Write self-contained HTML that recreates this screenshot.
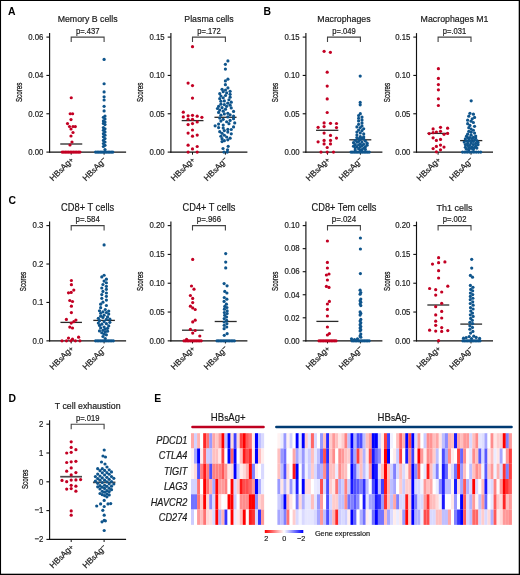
<!DOCTYPE html>
<html><head><meta charset="utf-8"><style>
html,body{margin:0;padding:0;background:#fff;}
body{width:520px;height:575px;overflow:hidden;}
svg{display:block;font-family:"Liberation Sans",sans-serif;will-change:transform;}
</style></head><body>
<svg width="520" height="575" viewBox="0 0 520 575">
<rect x="0" y="0" width="520" height="575" fill="#fff"/>
<line x1="49.6" y1="33.1" x2="49.6" y2="152.65" stroke="#111" stroke-width="1.15"/>
<line x1="46.4" y1="152.1" x2="49.6" y2="152.1" stroke="#111" stroke-width="1.1"/>
<text transform="translate(43.4,154.85) scale(1.0,1.16)" font-size="7.8" text-anchor="end" font-weight="normal" font-style="normal" fill="#222" stroke="#222" stroke-width="0.18" >0.00</text>
<line x1="46.4" y1="113.77" x2="49.6" y2="113.77" stroke="#111" stroke-width="1.1"/>
<text transform="translate(43.4,116.52) scale(1.0,1.16)" font-size="7.8" text-anchor="end" font-weight="normal" font-style="normal" fill="#222" stroke="#222" stroke-width="0.18" >0.02</text>
<line x1="46.4" y1="75.43" x2="49.6" y2="75.43" stroke="#111" stroke-width="1.1"/>
<text transform="translate(43.4,78.18) scale(1.0,1.16)" font-size="7.8" text-anchor="end" font-weight="normal" font-style="normal" fill="#222" stroke="#222" stroke-width="0.18" >0.04</text>
<line x1="46.4" y1="37.1" x2="49.6" y2="37.1" stroke="#111" stroke-width="1.1"/>
<text transform="translate(43.4,39.85) scale(1.0,1.16)" font-size="7.8" text-anchor="end" font-weight="normal" font-style="normal" fill="#222" stroke="#222" stroke-width="0.18" >0.06</text>
<line x1="49.1" y1="152.1" x2="126.1" y2="152.1" stroke="#111" stroke-width="1.15"/>
<line x1="71.2" y1="152.1" x2="71.2" y2="154.7" stroke="#111" stroke-width="1.0"/>
<line x1="104.1" y1="152.1" x2="104.1" y2="154.7" stroke="#111" stroke-width="1.0"/>
<text transform="translate(87.65,21.9) scale(1.0,1.11)" font-size="8.8" text-anchor="middle" font-weight="normal" font-style="normal" fill="#1a1a1a" stroke="#1a1a1a" stroke-width="0.18" >Memory B cells</text>
<text transform="translate(87.65,33.75) scale(1.0,1.09)" font-size="7.6" text-anchor="middle" font-weight="normal" font-style="normal" fill="#222" stroke="#222" stroke-width="0.18" >p=.437</text>
<path d="M71.2 42.1 V37.1 H104.1 V42.1" fill="none" stroke="#444" stroke-width="1.1"/>
<text transform="translate(22.2,92.4) rotate(-90) scale(0.67,1)" font-size="9.3" text-anchor="middle" fill="#222" stroke="#222" stroke-width="0.3">Scores</text>
<text transform="translate(74.1,160.4) rotate(-45)" font-size="8.4" text-anchor="end" fill="#222" stroke="#222" stroke-width="0.2">HB<tspan font-size="7.3">s</tspan>Ag<tspan font-size="7.4" dy="0.0">+</tspan></text>
<text transform="translate(107,160.4) rotate(-45)" font-size="8.4" text-anchor="end" fill="#222" stroke="#222" stroke-width="0.2">HB<tspan font-size="7.3">s</tspan>Ag<tspan font-size="7.4" dy="-1.6">&#8722;</tspan></text>
<line x1="170.9" y1="33.1" x2="170.9" y2="152.65" stroke="#111" stroke-width="1.15"/>
<line x1="167.7" y1="152.1" x2="170.9" y2="152.1" stroke="#111" stroke-width="1.1"/>
<text transform="translate(164.7,154.85) scale(1.0,1.16)" font-size="7.8" text-anchor="end" font-weight="normal" font-style="normal" fill="#222" stroke="#222" stroke-width="0.18" >0.00</text>
<line x1="167.7" y1="113.77" x2="170.9" y2="113.77" stroke="#111" stroke-width="1.1"/>
<text transform="translate(164.7,116.52) scale(1.0,1.16)" font-size="7.8" text-anchor="end" font-weight="normal" font-style="normal" fill="#222" stroke="#222" stroke-width="0.18" >0.05</text>
<line x1="167.7" y1="75.43" x2="170.9" y2="75.43" stroke="#111" stroke-width="1.1"/>
<text transform="translate(164.7,78.18) scale(1.0,1.16)" font-size="7.8" text-anchor="end" font-weight="normal" font-style="normal" fill="#222" stroke="#222" stroke-width="0.18" >0.10</text>
<line x1="167.7" y1="37.1" x2="170.9" y2="37.1" stroke="#111" stroke-width="1.1"/>
<text transform="translate(164.7,39.85) scale(1.0,1.16)" font-size="7.8" text-anchor="end" font-weight="normal" font-style="normal" fill="#222" stroke="#222" stroke-width="0.18" >0.15</text>
<line x1="170.4" y1="152.1" x2="247.4" y2="152.1" stroke="#111" stroke-width="1.15"/>
<line x1="192.5" y1="152.1" x2="192.5" y2="154.7" stroke="#111" stroke-width="1.0"/>
<line x1="225.4" y1="152.1" x2="225.4" y2="154.7" stroke="#111" stroke-width="1.0"/>
<text transform="translate(208.95,21.9) scale(1.0,1.11)" font-size="8.8" text-anchor="middle" font-weight="normal" font-style="normal" fill="#1a1a1a" stroke="#1a1a1a" stroke-width="0.18" >Plasma cells</text>
<text transform="translate(208.95,33.75) scale(1.0,1.09)" font-size="7.6" text-anchor="middle" font-weight="normal" font-style="normal" fill="#222" stroke="#222" stroke-width="0.18" >p=.172</text>
<path d="M192.5 42.1 V37.1 H225.4 V42.1" fill="none" stroke="#444" stroke-width="1.1"/>
<text transform="translate(143.4,92.4) rotate(-90) scale(0.67,1)" font-size="9.3" text-anchor="middle" fill="#222" stroke="#222" stroke-width="0.3">Scores</text>
<text transform="translate(195.4,160.4) rotate(-45)" font-size="8.4" text-anchor="end" fill="#222" stroke="#222" stroke-width="0.2">HB<tspan font-size="7.3">s</tspan>Ag<tspan font-size="7.4" dy="0.0">+</tspan></text>
<text transform="translate(228.3,160.4) rotate(-45)" font-size="8.4" text-anchor="end" fill="#222" stroke="#222" stroke-width="0.2">HB<tspan font-size="7.3">s</tspan>Ag<tspan font-size="7.4" dy="-1.6">&#8722;</tspan></text>
<line x1="305.9" y1="33.1" x2="305.9" y2="152.65" stroke="#111" stroke-width="1.15"/>
<line x1="302.7" y1="152.1" x2="305.9" y2="152.1" stroke="#111" stroke-width="1.1"/>
<text transform="translate(299.7,154.85) scale(1.0,1.16)" font-size="7.8" text-anchor="end" font-weight="normal" font-style="normal" fill="#222" stroke="#222" stroke-width="0.18" >0.00</text>
<line x1="302.7" y1="113.77" x2="305.9" y2="113.77" stroke="#111" stroke-width="1.1"/>
<text transform="translate(299.7,116.52) scale(1.0,1.16)" font-size="7.8" text-anchor="end" font-weight="normal" font-style="normal" fill="#222" stroke="#222" stroke-width="0.18" >0.05</text>
<line x1="302.7" y1="75.43" x2="305.9" y2="75.43" stroke="#111" stroke-width="1.1"/>
<text transform="translate(299.7,78.18) scale(1.0,1.16)" font-size="7.8" text-anchor="end" font-weight="normal" font-style="normal" fill="#222" stroke="#222" stroke-width="0.18" >0.10</text>
<line x1="302.7" y1="37.1" x2="305.9" y2="37.1" stroke="#111" stroke-width="1.1"/>
<text transform="translate(299.7,39.85) scale(1.0,1.16)" font-size="7.8" text-anchor="end" font-weight="normal" font-style="normal" fill="#222" stroke="#222" stroke-width="0.18" >0.15</text>
<line x1="305.4" y1="152.1" x2="382.4" y2="152.1" stroke="#111" stroke-width="1.15"/>
<line x1="327.5" y1="152.1" x2="327.5" y2="154.7" stroke="#111" stroke-width="1.0"/>
<line x1="360.4" y1="152.1" x2="360.4" y2="154.7" stroke="#111" stroke-width="1.0"/>
<text transform="translate(343.95,21.9) scale(1.0,1.11)" font-size="8.8" text-anchor="middle" font-weight="normal" font-style="normal" fill="#1a1a1a" stroke="#1a1a1a" stroke-width="0.18" >Macrophages</text>
<text transform="translate(343.95,33.75) scale(1.0,1.09)" font-size="7.6" text-anchor="middle" font-weight="normal" font-style="normal" fill="#222" stroke="#222" stroke-width="0.18" >p=.049</text>
<path d="M327.5 42.1 V37.1 H360.4 V42.1" fill="none" stroke="#444" stroke-width="1.1"/>
<text transform="translate(278.2,92.5) rotate(-90) scale(0.67,1)" font-size="9.3" text-anchor="middle" fill="#222" stroke="#222" stroke-width="0.3">Scores</text>
<text transform="translate(330.4,160.4) rotate(-45)" font-size="8.4" text-anchor="end" fill="#222" stroke="#222" stroke-width="0.2">HB<tspan font-size="7.3">s</tspan>Ag<tspan font-size="7.4" dy="0.0">+</tspan></text>
<text transform="translate(363.3,160.4) rotate(-45)" font-size="8.4" text-anchor="end" fill="#222" stroke="#222" stroke-width="0.2">HB<tspan font-size="7.3">s</tspan>Ag<tspan font-size="7.4" dy="-1.6">&#8722;</tspan></text>
<line x1="416.5" y1="33.1" x2="416.5" y2="152.65" stroke="#111" stroke-width="1.15"/>
<line x1="413.3" y1="152.1" x2="416.5" y2="152.1" stroke="#111" stroke-width="1.1"/>
<text transform="translate(410.3,154.85) scale(1.0,1.16)" font-size="7.8" text-anchor="end" font-weight="normal" font-style="normal" fill="#222" stroke="#222" stroke-width="0.18" >0.00</text>
<line x1="413.3" y1="113.77" x2="416.5" y2="113.77" stroke="#111" stroke-width="1.1"/>
<text transform="translate(410.3,116.52) scale(1.0,1.16)" font-size="7.8" text-anchor="end" font-weight="normal" font-style="normal" fill="#222" stroke="#222" stroke-width="0.18" >0.05</text>
<line x1="413.3" y1="75.43" x2="416.5" y2="75.43" stroke="#111" stroke-width="1.1"/>
<text transform="translate(410.3,78.18) scale(1.0,1.16)" font-size="7.8" text-anchor="end" font-weight="normal" font-style="normal" fill="#222" stroke="#222" stroke-width="0.18" >0.10</text>
<line x1="413.3" y1="37.1" x2="416.5" y2="37.1" stroke="#111" stroke-width="1.1"/>
<text transform="translate(410.3,39.85) scale(1.0,1.16)" font-size="7.8" text-anchor="end" font-weight="normal" font-style="normal" fill="#222" stroke="#222" stroke-width="0.18" >0.15</text>
<line x1="416" y1="152.1" x2="493" y2="152.1" stroke="#111" stroke-width="1.15"/>
<line x1="438.1" y1="152.1" x2="438.1" y2="154.7" stroke="#111" stroke-width="1.0"/>
<line x1="471" y1="152.1" x2="471" y2="154.7" stroke="#111" stroke-width="1.0"/>
<text transform="translate(454.55,21.9) scale(1.0,1.11)" font-size="8.8" text-anchor="middle" font-weight="normal" font-style="normal" fill="#1a1a1a" stroke="#1a1a1a" stroke-width="0.18" >Macrophages M1</text>
<text transform="translate(454.55,33.75) scale(1.0,1.09)" font-size="7.6" text-anchor="middle" font-weight="normal" font-style="normal" fill="#222" stroke="#222" stroke-width="0.18" >p=.031</text>
<path d="M438.1 42.1 V37.1 H471 V42.1" fill="none" stroke="#444" stroke-width="1.1"/>
<text transform="translate(390.1,92.5) rotate(-90) scale(0.67,1)" font-size="9.3" text-anchor="middle" fill="#222" stroke="#222" stroke-width="0.3">Scores</text>
<text transform="translate(441,160.4) rotate(-45)" font-size="8.4" text-anchor="end" fill="#222" stroke="#222" stroke-width="0.2">HB<tspan font-size="7.3">s</tspan>Ag<tspan font-size="7.4" dy="0.0">+</tspan></text>
<text transform="translate(473.9,160.4) rotate(-45)" font-size="8.4" text-anchor="end" fill="#222" stroke="#222" stroke-width="0.2">HB<tspan font-size="7.3">s</tspan>Ag<tspan font-size="7.4" dy="-1.6">&#8722;</tspan></text>
<line x1="49.6" y1="221.6" x2="49.6" y2="341.4" stroke="#111" stroke-width="1.15"/>
<line x1="46.4" y1="340.85" x2="49.6" y2="340.85" stroke="#111" stroke-width="1.1"/>
<text transform="translate(43.4,343.6) scale(1.0,1.16)" font-size="7.8" text-anchor="end" font-weight="normal" font-style="normal" fill="#222" stroke="#222" stroke-width="0.18" >0.0</text>
<line x1="46.4" y1="302.43" x2="49.6" y2="302.43" stroke="#111" stroke-width="1.1"/>
<text transform="translate(43.4,305.18) scale(1.0,1.16)" font-size="7.8" text-anchor="end" font-weight="normal" font-style="normal" fill="#222" stroke="#222" stroke-width="0.18" >0.1</text>
<line x1="46.4" y1="264.02" x2="49.6" y2="264.02" stroke="#111" stroke-width="1.1"/>
<text transform="translate(43.4,266.77) scale(1.0,1.16)" font-size="7.8" text-anchor="end" font-weight="normal" font-style="normal" fill="#222" stroke="#222" stroke-width="0.18" >0.2</text>
<line x1="46.4" y1="225.6" x2="49.6" y2="225.6" stroke="#111" stroke-width="1.1"/>
<text transform="translate(43.4,228.35) scale(1.0,1.16)" font-size="7.8" text-anchor="end" font-weight="normal" font-style="normal" fill="#222" stroke="#222" stroke-width="0.18" >0.3</text>
<line x1="49.1" y1="340.85" x2="126.1" y2="340.85" stroke="#111" stroke-width="1.15"/>
<line x1="71.2" y1="340.85" x2="71.2" y2="343.45" stroke="#111" stroke-width="1.0"/>
<line x1="104.1" y1="340.85" x2="104.1" y2="343.45" stroke="#111" stroke-width="1.0"/>
<text transform="translate(87.65,210.9) scale(1.0,1.11)" font-size="9.3" text-anchor="middle" font-weight="normal" font-style="normal" fill="#1a1a1a" stroke="#1a1a1a" stroke-width="0.18" >CD8+ T cells</text>
<text transform="translate(87.65,222.25) scale(1.0,1.09)" font-size="7.85" text-anchor="middle" font-weight="normal" font-style="normal" fill="#222" stroke="#222" stroke-width="0.18" >p=.584</text>
<path d="M71.2 230.6 V225.6 H104.1 V230.6" fill="none" stroke="#444" stroke-width="1.1"/>
<text transform="translate(25.55,281.5) rotate(-90) scale(0.67,1)" font-size="9.3" text-anchor="middle" fill="#222" stroke="#222" stroke-width="0.3">Scores</text>
<text transform="translate(74.1,349.15) rotate(-45)" font-size="8.4" text-anchor="end" fill="#222" stroke="#222" stroke-width="0.2">HB<tspan font-size="7.3">s</tspan>Ag<tspan font-size="7.4" dy="0.0">+</tspan></text>
<text transform="translate(107,349.15) rotate(-45)" font-size="8.4" text-anchor="end" fill="#222" stroke="#222" stroke-width="0.2">HB<tspan font-size="7.3">s</tspan>Ag<tspan font-size="7.4" dy="-1.6">&#8722;</tspan></text>
<line x1="170.9" y1="221.6" x2="170.9" y2="341.4" stroke="#111" stroke-width="1.15"/>
<line x1="167.7" y1="340.85" x2="170.9" y2="340.85" stroke="#111" stroke-width="1.1"/>
<text transform="translate(164.7,343.6) scale(1.0,1.16)" font-size="7.8" text-anchor="end" font-weight="normal" font-style="normal" fill="#222" stroke="#222" stroke-width="0.18" >0.00</text>
<line x1="167.7" y1="312.04" x2="170.9" y2="312.04" stroke="#111" stroke-width="1.1"/>
<text transform="translate(164.7,314.79) scale(1.0,1.16)" font-size="7.8" text-anchor="end" font-weight="normal" font-style="normal" fill="#222" stroke="#222" stroke-width="0.18" >0.05</text>
<line x1="167.7" y1="283.23" x2="170.9" y2="283.23" stroke="#111" stroke-width="1.1"/>
<text transform="translate(164.7,285.98) scale(1.0,1.16)" font-size="7.8" text-anchor="end" font-weight="normal" font-style="normal" fill="#222" stroke="#222" stroke-width="0.18" >0.10</text>
<line x1="167.7" y1="254.41" x2="170.9" y2="254.41" stroke="#111" stroke-width="1.1"/>
<text transform="translate(164.7,257.16) scale(1.0,1.16)" font-size="7.8" text-anchor="end" font-weight="normal" font-style="normal" fill="#222" stroke="#222" stroke-width="0.18" >0.15</text>
<line x1="167.7" y1="225.6" x2="170.9" y2="225.6" stroke="#111" stroke-width="1.1"/>
<text transform="translate(164.7,228.35) scale(1.0,1.16)" font-size="7.8" text-anchor="end" font-weight="normal" font-style="normal" fill="#222" stroke="#222" stroke-width="0.18" >0.20</text>
<line x1="170.4" y1="340.85" x2="247.4" y2="340.85" stroke="#111" stroke-width="1.15"/>
<line x1="192.5" y1="340.85" x2="192.5" y2="343.45" stroke="#111" stroke-width="1.0"/>
<line x1="225.4" y1="340.85" x2="225.4" y2="343.45" stroke="#111" stroke-width="1.0"/>
<text transform="translate(208.95,210.9) scale(1.0,1.11)" font-size="9.25" text-anchor="middle" font-weight="normal" font-style="normal" fill="#1a1a1a" stroke="#1a1a1a" stroke-width="0.18" >CD4+ T cells</text>
<text transform="translate(208.95,222.25) scale(1.0,1.09)" font-size="7.85" text-anchor="middle" font-weight="normal" font-style="normal" fill="#222" stroke="#222" stroke-width="0.18" >p=.966</text>
<path d="M192.5 230.6 V225.6 H225.4 V230.6" fill="none" stroke="#444" stroke-width="1.1"/>
<text transform="translate(143.45,281.3) rotate(-90) scale(0.67,1)" font-size="9.3" text-anchor="middle" fill="#222" stroke="#222" stroke-width="0.3">Scores</text>
<text transform="translate(195.4,349.15) rotate(-45)" font-size="8.4" text-anchor="end" fill="#222" stroke="#222" stroke-width="0.2">HB<tspan font-size="7.3">s</tspan>Ag<tspan font-size="7.4" dy="0.0">+</tspan></text>
<text transform="translate(228.3,349.15) rotate(-45)" font-size="8.4" text-anchor="end" fill="#222" stroke="#222" stroke-width="0.2">HB<tspan font-size="7.3">s</tspan>Ag<tspan font-size="7.4" dy="-1.6">&#8722;</tspan></text>
<line x1="305.9" y1="221.6" x2="305.9" y2="341.4" stroke="#111" stroke-width="1.15"/>
<line x1="302.7" y1="340.85" x2="305.9" y2="340.85" stroke="#111" stroke-width="1.1"/>
<text transform="translate(299.7,343.6) scale(1.0,1.16)" font-size="7.8" text-anchor="end" font-weight="normal" font-style="normal" fill="#222" stroke="#222" stroke-width="0.18" >0.00</text>
<line x1="302.7" y1="317.8" x2="305.9" y2="317.8" stroke="#111" stroke-width="1.1"/>
<text transform="translate(299.7,320.55) scale(1.0,1.16)" font-size="7.8" text-anchor="end" font-weight="normal" font-style="normal" fill="#222" stroke="#222" stroke-width="0.18" >0.02</text>
<line x1="302.7" y1="294.75" x2="305.9" y2="294.75" stroke="#111" stroke-width="1.1"/>
<text transform="translate(299.7,297.5) scale(1.0,1.16)" font-size="7.8" text-anchor="end" font-weight="normal" font-style="normal" fill="#222" stroke="#222" stroke-width="0.18" >0.04</text>
<line x1="302.7" y1="271.7" x2="305.9" y2="271.7" stroke="#111" stroke-width="1.1"/>
<text transform="translate(299.7,274.45) scale(1.0,1.16)" font-size="7.8" text-anchor="end" font-weight="normal" font-style="normal" fill="#222" stroke="#222" stroke-width="0.18" >0.06</text>
<line x1="302.7" y1="248.65" x2="305.9" y2="248.65" stroke="#111" stroke-width="1.1"/>
<text transform="translate(299.7,251.4) scale(1.0,1.16)" font-size="7.8" text-anchor="end" font-weight="normal" font-style="normal" fill="#222" stroke="#222" stroke-width="0.18" >0.08</text>
<line x1="302.7" y1="225.6" x2="305.9" y2="225.6" stroke="#111" stroke-width="1.1"/>
<text transform="translate(299.7,228.35) scale(1.0,1.16)" font-size="7.8" text-anchor="end" font-weight="normal" font-style="normal" fill="#222" stroke="#222" stroke-width="0.18" >0.10</text>
<line x1="305.4" y1="340.85" x2="382.4" y2="340.85" stroke="#111" stroke-width="1.15"/>
<line x1="327.5" y1="340.85" x2="327.5" y2="343.45" stroke="#111" stroke-width="1.0"/>
<line x1="360.4" y1="340.85" x2="360.4" y2="343.45" stroke="#111" stroke-width="1.0"/>
<text transform="translate(343.95,210.9) scale(1.0,1.11)" font-size="9.25" text-anchor="middle" font-weight="normal" font-style="normal" fill="#1a1a1a" stroke="#1a1a1a" stroke-width="0.18" >CD8+ Tem cells</text>
<text transform="translate(343.95,222.25) scale(1.0,1.09)" font-size="7.95" text-anchor="middle" font-weight="normal" font-style="normal" fill="#222" stroke="#222" stroke-width="0.18" >p=.024</text>
<path d="M327.5 230.6 V225.6 H360.4 V230.6" fill="none" stroke="#444" stroke-width="1.1"/>
<text transform="translate(277.7,281.3) rotate(-90) scale(0.67,1)" font-size="9.3" text-anchor="middle" fill="#222" stroke="#222" stroke-width="0.3">Scores</text>
<text transform="translate(330.4,349.15) rotate(-45)" font-size="8.4" text-anchor="end" fill="#222" stroke="#222" stroke-width="0.2">HB<tspan font-size="7.3">s</tspan>Ag<tspan font-size="7.4" dy="0.0">+</tspan></text>
<text transform="translate(363.3,349.15) rotate(-45)" font-size="8.4" text-anchor="end" fill="#222" stroke="#222" stroke-width="0.2">HB<tspan font-size="7.3">s</tspan>Ag<tspan font-size="7.4" dy="-1.6">&#8722;</tspan></text>
<line x1="416.5" y1="221.6" x2="416.5" y2="341.4" stroke="#111" stroke-width="1.15"/>
<line x1="413.3" y1="340.85" x2="416.5" y2="340.85" stroke="#111" stroke-width="1.1"/>
<text transform="translate(410.3,343.6) scale(1.0,1.16)" font-size="7.8" text-anchor="end" font-weight="normal" font-style="normal" fill="#222" stroke="#222" stroke-width="0.18" >0.00</text>
<line x1="413.3" y1="312.04" x2="416.5" y2="312.04" stroke="#111" stroke-width="1.1"/>
<text transform="translate(410.3,314.79) scale(1.0,1.16)" font-size="7.8" text-anchor="end" font-weight="normal" font-style="normal" fill="#222" stroke="#222" stroke-width="0.18" >0.05</text>
<line x1="413.3" y1="283.23" x2="416.5" y2="283.23" stroke="#111" stroke-width="1.1"/>
<text transform="translate(410.3,285.98) scale(1.0,1.16)" font-size="7.8" text-anchor="end" font-weight="normal" font-style="normal" fill="#222" stroke="#222" stroke-width="0.18" >0.10</text>
<line x1="413.3" y1="254.41" x2="416.5" y2="254.41" stroke="#111" stroke-width="1.1"/>
<text transform="translate(410.3,257.16) scale(1.0,1.16)" font-size="7.8" text-anchor="end" font-weight="normal" font-style="normal" fill="#222" stroke="#222" stroke-width="0.18" >0.15</text>
<line x1="413.3" y1="225.6" x2="416.5" y2="225.6" stroke="#111" stroke-width="1.1"/>
<text transform="translate(410.3,228.35) scale(1.0,1.16)" font-size="7.8" text-anchor="end" font-weight="normal" font-style="normal" fill="#222" stroke="#222" stroke-width="0.18" >0.20</text>
<line x1="416" y1="340.85" x2="493" y2="340.85" stroke="#111" stroke-width="1.15"/>
<line x1="438.1" y1="340.85" x2="438.1" y2="343.45" stroke="#111" stroke-width="1.0"/>
<line x1="471" y1="340.85" x2="471" y2="343.45" stroke="#111" stroke-width="1.0"/>
<text transform="translate(454.55,210.9) scale(1.0,1.11)" font-size="9.0" text-anchor="middle" font-weight="normal" font-style="normal" fill="#1a1a1a" stroke="#1a1a1a" stroke-width="0.18" >Th1 cells</text>
<text transform="translate(454.55,222.25) scale(1.0,1.09)" font-size="7.7" text-anchor="middle" font-weight="normal" font-style="normal" fill="#222" stroke="#222" stroke-width="0.18" >p=.002</text>
<path d="M438.1 230.6 V225.6 H471 V230.6" fill="none" stroke="#444" stroke-width="1.1"/>
<text transform="translate(389.8,281.3) rotate(-90) scale(0.67,1)" font-size="9.3" text-anchor="middle" fill="#222" stroke="#222" stroke-width="0.3">Scores</text>
<text transform="translate(441,349.15) rotate(-45)" font-size="8.4" text-anchor="end" fill="#222" stroke="#222" stroke-width="0.2">HB<tspan font-size="7.3">s</tspan>Ag<tspan font-size="7.4" dy="0.0">+</tspan></text>
<text transform="translate(473.9,349.15) rotate(-45)" font-size="8.4" text-anchor="end" fill="#222" stroke="#222" stroke-width="0.2">HB<tspan font-size="7.3">s</tspan>Ag<tspan font-size="7.4" dy="-1.6">&#8722;</tspan></text>
<line x1="49.6" y1="420.2" x2="49.6" y2="539.95" stroke="#111" stroke-width="1.15"/>
<line x1="46.4" y1="539.4" x2="49.6" y2="539.4" stroke="#111" stroke-width="1.1"/>
<text transform="translate(43.4,542.15) scale(1.0,1.16)" font-size="7.8" text-anchor="end" font-weight="normal" font-style="normal" fill="#222" stroke="#222" stroke-width="0.18" >&#8722;2</text>
<line x1="46.4" y1="510.6" x2="49.6" y2="510.6" stroke="#111" stroke-width="1.1"/>
<text transform="translate(43.4,513.35) scale(1.0,1.16)" font-size="7.8" text-anchor="end" font-weight="normal" font-style="normal" fill="#222" stroke="#222" stroke-width="0.18" >&#8722;1</text>
<line x1="46.4" y1="481.8" x2="49.6" y2="481.8" stroke="#111" stroke-width="1.1"/>
<text transform="translate(43.4,484.55) scale(1.0,1.16)" font-size="7.8" text-anchor="end" font-weight="normal" font-style="normal" fill="#222" stroke="#222" stroke-width="0.18" >0</text>
<line x1="46.4" y1="453" x2="49.6" y2="453" stroke="#111" stroke-width="1.1"/>
<text transform="translate(43.4,455.75) scale(1.0,1.16)" font-size="7.8" text-anchor="end" font-weight="normal" font-style="normal" fill="#222" stroke="#222" stroke-width="0.18" >1</text>
<line x1="46.4" y1="424.2" x2="49.6" y2="424.2" stroke="#111" stroke-width="1.1"/>
<text transform="translate(43.4,426.95) scale(1.0,1.16)" font-size="7.8" text-anchor="end" font-weight="normal" font-style="normal" fill="#222" stroke="#222" stroke-width="0.18" >2</text>
<line x1="49.1" y1="539.4" x2="126.1" y2="539.4" stroke="#111" stroke-width="1.15"/>
<line x1="71.2" y1="539.4" x2="71.2" y2="542" stroke="#111" stroke-width="1.0"/>
<line x1="104.1" y1="539.4" x2="104.1" y2="542" stroke="#111" stroke-width="1.0"/>
<text transform="translate(87.65,409) scale(1.0,1.11)" font-size="8.8" text-anchor="middle" font-weight="normal" font-style="normal" fill="#1a1a1a" stroke="#1a1a1a" stroke-width="0.18" >T cell exhaustion</text>
<text transform="translate(87.65,420.85) scale(1.0,1.09)" font-size="7.6" text-anchor="middle" font-weight="normal" font-style="normal" fill="#222" stroke="#222" stroke-width="0.18" >p=.019</text>
<path d="M71.2 429.2 V424.2 H104.1 V429.2" fill="none" stroke="#444" stroke-width="1.1"/>
<text transform="translate(28.2,479.4) rotate(-90) scale(0.67,1)" font-size="9.3" text-anchor="middle" fill="#222" stroke="#222" stroke-width="0.3">Scores</text>
<text transform="translate(74.1,547.7) rotate(-45)" font-size="8.4" text-anchor="end" fill="#222" stroke="#222" stroke-width="0.2">HB<tspan font-size="7.3">s</tspan>Ag<tspan font-size="7.4" dy="0.0">+</tspan></text>
<text transform="translate(107,547.7) rotate(-45)" font-size="8.4" text-anchor="end" fill="#222" stroke="#222" stroke-width="0.2">HB<tspan font-size="7.3">s</tspan>Ag<tspan font-size="7.4" dy="-1.6">&#8722;</tspan></text>
<line x1="60.25" y1="144" x2="82.25" y2="144" stroke="#2a2a2a" stroke-width="1.3"/>
<circle cx="71.25" cy="97.75" r="1.6" fill="#c30023"/>
<circle cx="70.2" cy="113.75" r="1.6" fill="#c30023"/>
<circle cx="72.6" cy="113.75" r="1.6" fill="#c30023"/>
<circle cx="71" cy="119.6" r="1.6" fill="#c30023"/>
<circle cx="67.5" cy="123.6" r="1.6" fill="#c30023"/>
<circle cx="69.5" cy="126.5" r="1.6" fill="#c30023"/>
<circle cx="73" cy="126.5" r="1.6" fill="#c30023"/>
<circle cx="75.3" cy="126.6" r="1.6" fill="#c30023"/>
<circle cx="71" cy="129" r="1.6" fill="#c30023"/>
<circle cx="73" cy="132.5" r="1.6" fill="#c30023"/>
<circle cx="71" cy="136" r="1.6" fill="#c30023"/>
<circle cx="72" cy="142" r="1.6" fill="#c30023"/>
<circle cx="70" cy="145" r="1.6" fill="#c30023"/>
<circle cx="62.2" cy="152.1" r="1.6" fill="#c30023"/>
<circle cx="63.81" cy="152.1" r="1.6" fill="#c30023"/>
<circle cx="65.42" cy="152.1" r="1.6" fill="#c30023"/>
<circle cx="67.03" cy="152.1" r="1.6" fill="#c30023"/>
<circle cx="68.64" cy="152.1" r="1.6" fill="#c30023"/>
<circle cx="70.25" cy="152.1" r="1.6" fill="#c30023"/>
<circle cx="71.85" cy="152.1" r="1.6" fill="#c30023"/>
<circle cx="73.46" cy="152.1" r="1.6" fill="#c30023"/>
<circle cx="75.07" cy="152.1" r="1.6" fill="#c30023"/>
<circle cx="76.68" cy="152.1" r="1.6" fill="#c30023"/>
<circle cx="78.29" cy="152.1" r="1.6" fill="#c30023"/>
<circle cx="79.9" cy="152.1" r="1.6" fill="#c30023"/>
<circle cx="104.1" cy="59.4" r="1.6" fill="#0f558c"/>
<circle cx="104.1" cy="83.75" r="1.6" fill="#0f558c"/>
<circle cx="104.1" cy="91.9" r="1.6" fill="#0f558c"/>
<circle cx="104.1" cy="96.8" r="1.6" fill="#0f558c"/>
<circle cx="104.1" cy="100" r="1.6" fill="#0f558c"/>
<circle cx="104.1" cy="106.3" r="1.6" fill="#0f558c"/>
<circle cx="104.1" cy="110.9" r="1.6" fill="#0f558c"/>
<circle cx="105" cy="116" r="1.6" fill="#0f558c"/>
<circle cx="103.4" cy="117.3" r="1.6" fill="#0f558c"/>
<circle cx="105" cy="118.9" r="1.6" fill="#0f558c"/>
<circle cx="103.4" cy="120.9" r="1.6" fill="#0f558c"/>
<circle cx="105" cy="122.1" r="1.6" fill="#0f558c"/>
<circle cx="103.4" cy="123.4" r="1.6" fill="#0f558c"/>
<circle cx="105" cy="124.6" r="1.6" fill="#0f558c"/>
<circle cx="103.4" cy="127.6" r="1.6" fill="#0f558c"/>
<circle cx="105" cy="128.8" r="1.6" fill="#0f558c"/>
<circle cx="103.4" cy="130.3" r="1.6" fill="#0f558c"/>
<circle cx="105" cy="131.9" r="1.6" fill="#0f558c"/>
<circle cx="103.4" cy="133.7" r="1.6" fill="#0f558c"/>
<circle cx="105" cy="135.2" r="1.6" fill="#0f558c"/>
<circle cx="103.4" cy="136.8" r="1.6" fill="#0f558c"/>
<circle cx="105" cy="138.6" r="1.6" fill="#0f558c"/>
<circle cx="103.4" cy="140.4" r="1.6" fill="#0f558c"/>
<circle cx="105" cy="142" r="1.6" fill="#0f558c"/>
<circle cx="103.4" cy="143.5" r="1.6" fill="#0f558c"/>
<circle cx="105" cy="145.3" r="1.6" fill="#0f558c"/>
<circle cx="103.4" cy="146.5" r="1.6" fill="#0f558c"/>
<circle cx="105" cy="149.6" r="1.6" fill="#0f558c"/>
<circle cx="95.6" cy="152.1" r="1.6" fill="#0f558c"/>
<circle cx="97.16" cy="152.1" r="1.6" fill="#0f558c"/>
<circle cx="98.73" cy="152.1" r="1.6" fill="#0f558c"/>
<circle cx="100.29" cy="152.1" r="1.6" fill="#0f558c"/>
<circle cx="101.85" cy="152.1" r="1.6" fill="#0f558c"/>
<circle cx="103.42" cy="152.1" r="1.6" fill="#0f558c"/>
<circle cx="104.98" cy="152.1" r="1.6" fill="#0f558c"/>
<circle cx="106.55" cy="152.1" r="1.6" fill="#0f558c"/>
<circle cx="108.11" cy="152.1" r="1.6" fill="#0f558c"/>
<circle cx="109.67" cy="152.1" r="1.6" fill="#0f558c"/>
<circle cx="111.24" cy="152.1" r="1.6" fill="#0f558c"/>
<circle cx="112.8" cy="152.1" r="1.6" fill="#0f558c"/>
<line x1="181.7" y1="120.6" x2="203.5" y2="120.6" stroke="#2a2a2a" stroke-width="1.3"/>
<circle cx="192.5" cy="46.7" r="1.6" fill="#c30023"/>
<circle cx="188.1" cy="83.1" r="1.6" fill="#c30023"/>
<circle cx="192.5" cy="85.6" r="1.6" fill="#c30023"/>
<circle cx="192.5" cy="98.1" r="1.6" fill="#c30023"/>
<circle cx="183.3" cy="112.2" r="1.6" fill="#c30023"/>
<circle cx="183.3" cy="116.9" r="1.6" fill="#c30023"/>
<circle cx="188.1" cy="115.8" r="1.6" fill="#c30023"/>
<circle cx="192.5" cy="115.3" r="1.6" fill="#c30023"/>
<circle cx="197.2" cy="116.2" r="1.6" fill="#c30023"/>
<circle cx="201.9" cy="117.3" r="1.6" fill="#c30023"/>
<circle cx="188.1" cy="119.3" r="1.6" fill="#c30023"/>
<circle cx="192.5" cy="119.3" r="1.6" fill="#c30023"/>
<circle cx="197.2" cy="121.9" r="1.6" fill="#c30023"/>
<circle cx="188.1" cy="124.6" r="1.6" fill="#c30023"/>
<circle cx="192.5" cy="123.6" r="1.6" fill="#c30023"/>
<circle cx="192.5" cy="130" r="1.6" fill="#c30023"/>
<circle cx="188.1" cy="133.1" r="1.6" fill="#c30023"/>
<circle cx="192.5" cy="136.2" r="1.6" fill="#c30023"/>
<circle cx="197.2" cy="135.1" r="1.6" fill="#c30023"/>
<circle cx="188.1" cy="145.2" r="1.6" fill="#c30023"/>
<circle cx="197.2" cy="146.5" r="1.6" fill="#c30023"/>
<circle cx="192.5" cy="148.9" r="1.6" fill="#c30023"/>
<circle cx="188.1" cy="152.1" r="1.6" fill="#c30023"/>
<circle cx="197.2" cy="152.1" r="1.6" fill="#c30023"/>
<line x1="214.45" y1="117.3" x2="236.55" y2="117.3" stroke="#2a2a2a" stroke-width="1.3"/>
<circle cx="227.9" cy="60.9" r="1.6" fill="#0f558c"/>
<circle cx="225.4" cy="64.3" r="1.6" fill="#0f558c"/>
<circle cx="225.4" cy="69.1" r="1.6" fill="#0f558c"/>
<circle cx="227.9" cy="79.2" r="1.6" fill="#0f558c"/>
<circle cx="225.4" cy="80.9" r="1.6" fill="#0f558c"/>
<circle cx="225.4" cy="84.7" r="1.6" fill="#0f558c"/>
<circle cx="227.9" cy="87.9" r="1.6" fill="#0f558c"/>
<circle cx="222.05" cy="89.29" r="1.6" fill="#0f558c"/>
<circle cx="225.5" cy="90.02" r="1.6" fill="#0f558c"/>
<circle cx="230.1" cy="91.29" r="1.6" fill="#0f558c"/>
<circle cx="223.2" cy="91.69" r="1.6" fill="#0f558c"/>
<circle cx="226.65" cy="92.93" r="1.6" fill="#0f558c"/>
<circle cx="219.75" cy="93.66" r="1.6" fill="#0f558c"/>
<circle cx="230.1" cy="94.28" r="1.6" fill="#0f558c"/>
<circle cx="225.5" cy="95.51" r="1.6" fill="#0f558c"/>
<circle cx="220.9" cy="96" r="1.6" fill="#0f558c"/>
<circle cx="230.1" cy="97.18" r="1.6" fill="#0f558c"/>
<circle cx="223.2" cy="97.76" r="1.6" fill="#0f558c"/>
<circle cx="219.75" cy="98.64" r="1.6" fill="#0f558c"/>
<circle cx="228.95" cy="99.77" r="1.6" fill="#0f558c"/>
<circle cx="224.35" cy="100.96" r="1.6" fill="#0f558c"/>
<circle cx="220.9" cy="101.27" r="1.6" fill="#0f558c"/>
<circle cx="231.25" cy="102.14" r="1.6" fill="#0f558c"/>
<circle cx="227.8" cy="103.17" r="1.6" fill="#0f558c"/>
<circle cx="220.9" cy="104.14" r="1.6" fill="#0f558c"/>
<circle cx="224.35" cy="104.56" r="1.6" fill="#0f558c"/>
<circle cx="230.1" cy="105.13" r="1.6" fill="#0f558c"/>
<circle cx="218.6" cy="106.28" r="1.6" fill="#0f558c"/>
<circle cx="226.65" cy="106.31" r="1.6" fill="#0f558c"/>
<circle cx="222.05" cy="107.64" r="1.6" fill="#0f558c"/>
<circle cx="231.25" cy="107.9" r="1.6" fill="#0f558c"/>
<circle cx="217.45" cy="108.5" r="1.6" fill="#0f558c"/>
<circle cx="225.5" cy="109.19" r="1.6" fill="#0f558c"/>
<circle cx="219.75" cy="110.06" r="1.6" fill="#0f558c"/>
<circle cx="223.2" cy="111.18" r="1.6" fill="#0f558c"/>
<circle cx="233.55" cy="111.39" r="1.6" fill="#0f558c"/>
<circle cx="218.6" cy="112.46" r="1.6" fill="#0f558c"/>
<circle cx="227.8" cy="113.3" r="1.6" fill="#0f558c"/>
<circle cx="224.35" cy="113.88" r="1.6" fill="#0f558c"/>
<circle cx="230.1" cy="114.81" r="1.6" fill="#0f558c"/>
<circle cx="220.9" cy="115.21" r="1.6" fill="#0f558c"/>
<circle cx="233.55" cy="116" r="1.6" fill="#0f558c"/>
<circle cx="227.8" cy="116.91" r="1.6" fill="#0f558c"/>
<circle cx="219.75" cy="118.08" r="1.6" fill="#0f558c"/>
<circle cx="233.55" cy="118.67" r="1.6" fill="#0f558c"/>
<circle cx="223.2" cy="119.37" r="1.6" fill="#0f558c"/>
<circle cx="230.1" cy="120.38" r="1.6" fill="#0f558c"/>
<circle cx="220.9" cy="121.07" r="1.6" fill="#0f558c"/>
<circle cx="226.65" cy="121.74" r="1.6" fill="#0f558c"/>
<circle cx="234.7" cy="122.92" r="1.6" fill="#0f558c"/>
<circle cx="228.95" cy="123.64" r="1.6" fill="#0f558c"/>
<circle cx="218.6" cy="124.07" r="1.6" fill="#0f558c"/>
<circle cx="223.2" cy="125.12" r="1.6" fill="#0f558c"/>
<circle cx="215.15" cy="125.87" r="1.6" fill="#0f558c"/>
<circle cx="233.55" cy="126.95" r="1.6" fill="#0f558c"/>
<circle cx="218.6" cy="127.62" r="1.6" fill="#0f558c"/>
<circle cx="223.2" cy="128.06" r="1.6" fill="#0f558c"/>
<circle cx="227.8" cy="129.4" r="1.6" fill="#0f558c"/>
<circle cx="231.25" cy="129.51" r="1.6" fill="#0f558c"/>
<circle cx="224.35" cy="130.54" r="1.6" fill="#0f558c"/>
<circle cx="219.75" cy="131.66" r="1.6" fill="#0f558c"/>
<circle cx="227.8" cy="132.1" r="1.6" fill="#0f558c"/>
<circle cx="222.05" cy="133.28" r="1.6" fill="#0f558c"/>
<circle cx="231.25" cy="133.84" r="1.6" fill="#0f558c"/>
<circle cx="224.35" cy="135.26" r="1.6" fill="#0f558c"/>
<circle cx="220.9" cy="136.25" r="1.6" fill="#0f558c"/>
<circle cx="226.65" cy="137.02" r="1.6" fill="#0f558c"/>
<circle cx="230.1" cy="138.18" r="1.6" fill="#0f558c"/>
<circle cx="222.05" cy="138.64" r="1.6" fill="#0f558c"/>
<circle cx="227.8" cy="139.86" r="1.6" fill="#0f558c"/>
<circle cx="224.35" cy="140.7" r="1.6" fill="#0f558c"/>
<circle cx="222.05" cy="141.61" r="1.6" fill="#0f558c"/>
<circle cx="228.2" cy="146.3" r="1.6" fill="#0f558c"/>
<circle cx="223" cy="148.5" r="1.6" fill="#0f558c"/>
<circle cx="227.5" cy="149.8" r="1.6" fill="#0f558c"/>
<circle cx="224" cy="152.1" r="1.6" fill="#0f558c"/>
<circle cx="227.2" cy="152.1" r="1.6" fill="#0f558c"/>
<line x1="316.05" y1="130.3" x2="338.35" y2="130.3" stroke="#2a2a2a" stroke-width="1.3"/>
<circle cx="324.1" cy="51.3" r="1.6" fill="#c30023"/>
<circle cx="330.4" cy="52.3" r="1.6" fill="#c30023"/>
<circle cx="327.2" cy="72.2" r="1.6" fill="#c30023"/>
<circle cx="327.2" cy="86.1" r="1.6" fill="#c30023"/>
<circle cx="327.2" cy="98.9" r="1.6" fill="#c30023"/>
<circle cx="327.2" cy="112.5" r="1.6" fill="#c30023"/>
<circle cx="324.1" cy="122.9" r="1.6" fill="#c30023"/>
<circle cx="330.5" cy="123.3" r="1.6" fill="#c30023"/>
<circle cx="336.5" cy="123.5" r="1.6" fill="#c30023"/>
<circle cx="318.1" cy="127.3" r="1.6" fill="#c30023"/>
<circle cx="324.1" cy="126.6" r="1.6" fill="#c30023"/>
<circle cx="336.5" cy="127.6" r="1.6" fill="#c30023"/>
<circle cx="324.1" cy="133.1" r="1.6" fill="#c30023"/>
<circle cx="330.5" cy="135.4" r="1.6" fill="#c30023"/>
<circle cx="336.5" cy="138.1" r="1.6" fill="#c30023"/>
<circle cx="318.1" cy="141.8" r="1.6" fill="#c30023"/>
<circle cx="324.1" cy="140.4" r="1.6" fill="#c30023"/>
<circle cx="330.5" cy="140.4" r="1.6" fill="#c30023"/>
<circle cx="324.1" cy="143.9" r="1.6" fill="#c30023"/>
<circle cx="330.5" cy="143.9" r="1.6" fill="#c30023"/>
<circle cx="327.2" cy="147.5" r="1.6" fill="#c30023"/>
<circle cx="321" cy="152.1" r="1.6" fill="#c30023"/>
<circle cx="327.2" cy="152.1" r="1.6" fill="#c30023"/>
<circle cx="333.5" cy="152.1" r="1.6" fill="#c30023"/>
<line x1="349.3" y1="139.8" x2="371.3" y2="139.8" stroke="#2a2a2a" stroke-width="1.3"/>
<circle cx="360.2" cy="76.1" r="1.6" fill="#0f558c"/>
<circle cx="360.2" cy="102.4" r="1.6" fill="#0f558c"/>
<circle cx="360.2" cy="104.8" r="1.6" fill="#0f558c"/>
<circle cx="360.3" cy="113.71" r="1.6" fill="#0f558c"/>
<circle cx="358.6" cy="115.52" r="1.6" fill="#0f558c"/>
<circle cx="362" cy="117.11" r="1.6" fill="#0f558c"/>
<circle cx="358.6" cy="118.23" r="1.6" fill="#0f558c"/>
<circle cx="362" cy="119.88" r="1.6" fill="#0f558c"/>
<circle cx="358.6" cy="120.9" r="1.6" fill="#0f558c"/>
<circle cx="362" cy="122.91" r="1.6" fill="#0f558c"/>
<circle cx="358.6" cy="124.37" r="1.6" fill="#0f558c"/>
<circle cx="362" cy="125.94" r="1.6" fill="#0f558c"/>
<circle cx="356.9" cy="126.89" r="1.6" fill="#0f558c"/>
<circle cx="360.3" cy="127.55" r="1.6" fill="#0f558c"/>
<circle cx="363.7" cy="128.73" r="1.6" fill="#0f558c"/>
<circle cx="358.6" cy="130.04" r="1.6" fill="#0f558c"/>
<circle cx="362" cy="130.62" r="1.6" fill="#0f558c"/>
<circle cx="356.9" cy="132.06" r="1.6" fill="#0f558c"/>
<circle cx="360.3" cy="132.92" r="1.6" fill="#0f558c"/>
<circle cx="363.7" cy="133.97" r="1.6" fill="#0f558c"/>
<circle cx="356.9" cy="135.01" r="1.6" fill="#0f558c"/>
<circle cx="360.3" cy="136.67" r="1.6" fill="#0f558c"/>
<circle cx="363.7" cy="136.95" r="1.6" fill="#0f558c"/>
<circle cx="356.9" cy="137.55" r="1.6" fill="#0f558c"/>
<circle cx="362" cy="138.16" r="1.6" fill="#0f558c"/>
<circle cx="358.6" cy="138.91" r="1.6" fill="#0f558c"/>
<circle cx="363.7" cy="139.05" r="1.6" fill="#0f558c"/>
<circle cx="360.3" cy="139.71" r="1.6" fill="#0f558c"/>
<circle cx="355.2" cy="140.29" r="1.6" fill="#0f558c"/>
<circle cx="365.4" cy="141.06" r="1.6" fill="#0f558c"/>
<circle cx="358.6" cy="141.51" r="1.6" fill="#0f558c"/>
<circle cx="362" cy="142.04" r="1.6" fill="#0f558c"/>
<circle cx="356.9" cy="142.07" r="1.6" fill="#0f558c"/>
<circle cx="353.5" cy="142.68" r="1.6" fill="#0f558c"/>
<circle cx="367.1" cy="143.14" r="1.6" fill="#0f558c"/>
<circle cx="360.3" cy="144.06" r="1.6" fill="#0f558c"/>
<circle cx="363.7" cy="144.33" r="1.6" fill="#0f558c"/>
<circle cx="355.2" cy="144.57" r="1.6" fill="#0f558c"/>
<circle cx="358.6" cy="144.76" r="1.6" fill="#0f558c"/>
<circle cx="367.1" cy="145.21" r="1.6" fill="#0f558c"/>
<circle cx="362" cy="145.61" r="1.6" fill="#0f558c"/>
<circle cx="353.5" cy="146.22" r="1.6" fill="#0f558c"/>
<circle cx="356.9" cy="146.71" r="1.6" fill="#0f558c"/>
<circle cx="365.4" cy="146.86" r="1.6" fill="#0f558c"/>
<circle cx="360.3" cy="147.06" r="1.6" fill="#0f558c"/>
<circle cx="355.2" cy="147.79" r="1.6" fill="#0f558c"/>
<circle cx="363.7" cy="148.16" r="1.6" fill="#0f558c"/>
<circle cx="358.6" cy="148.72" r="1.6" fill="#0f558c"/>
<circle cx="365.4" cy="149.44" r="1.6" fill="#0f558c"/>
<circle cx="362" cy="149.64" r="1.6" fill="#0f558c"/>
<circle cx="355.2" cy="149.9" r="1.6" fill="#0f558c"/>
<circle cx="360.3" cy="150.39" r="1.6" fill="#0f558c"/>
<circle cx="351.1" cy="152.1" r="1.6" fill="#0f558c"/>
<circle cx="352.75" cy="152.1" r="1.6" fill="#0f558c"/>
<circle cx="354.39" cy="152.1" r="1.6" fill="#0f558c"/>
<circle cx="356.04" cy="152.1" r="1.6" fill="#0f558c"/>
<circle cx="357.68" cy="152.1" r="1.6" fill="#0f558c"/>
<circle cx="359.33" cy="152.1" r="1.6" fill="#0f558c"/>
<circle cx="360.97" cy="152.1" r="1.6" fill="#0f558c"/>
<circle cx="362.62" cy="152.1" r="1.6" fill="#0f558c"/>
<circle cx="364.26" cy="152.1" r="1.6" fill="#0f558c"/>
<circle cx="365.91" cy="152.1" r="1.6" fill="#0f558c"/>
<circle cx="367.55" cy="152.1" r="1.6" fill="#0f558c"/>
<circle cx="369.2" cy="152.1" r="1.6" fill="#0f558c"/>
<line x1="427.45" y1="133.4" x2="448.95" y2="133.4" stroke="#2a2a2a" stroke-width="1.3"/>
<circle cx="438.4" cy="68.7" r="1.6" fill="#c30023"/>
<circle cx="438.4" cy="78.4" r="1.6" fill="#c30023"/>
<circle cx="438.4" cy="84.6" r="1.6" fill="#c30023"/>
<circle cx="438.4" cy="89.8" r="1.6" fill="#c30023"/>
<circle cx="438.4" cy="98.8" r="1.6" fill="#c30023"/>
<circle cx="438.4" cy="105.5" r="1.6" fill="#c30023"/>
<circle cx="433.1" cy="128.9" r="1.6" fill="#c30023"/>
<circle cx="440.5" cy="127.3" r="1.6" fill="#c30023"/>
<circle cx="447.6" cy="128.2" r="1.6" fill="#c30023"/>
<circle cx="429.2" cy="133.6" r="1.6" fill="#c30023"/>
<circle cx="433.1" cy="132.7" r="1.6" fill="#c30023"/>
<circle cx="436.4" cy="132" r="1.6" fill="#c30023"/>
<circle cx="440.5" cy="131.3" r="1.6" fill="#c30023"/>
<circle cx="444" cy="134.3" r="1.6" fill="#c30023"/>
<circle cx="447.6" cy="133.4" r="1.6" fill="#c30023"/>
<circle cx="433.1" cy="137.8" r="1.6" fill="#c30023"/>
<circle cx="436.4" cy="140.4" r="1.6" fill="#c30023"/>
<circle cx="440.5" cy="139.4" r="1.6" fill="#c30023"/>
<circle cx="433.1" cy="148.6" r="1.6" fill="#c30023"/>
<circle cx="436.4" cy="146.4" r="1.6" fill="#c30023"/>
<circle cx="440.5" cy="145.1" r="1.6" fill="#c30023"/>
<circle cx="444" cy="147.1" r="1.6" fill="#c30023"/>
<circle cx="440.5" cy="149.8" r="1.6" fill="#c30023"/>
<circle cx="436.4" cy="151.8" r="1.6" fill="#c30023"/>
<line x1="460.1" y1="140.6" x2="482.3" y2="140.6" stroke="#2a2a2a" stroke-width="1.3"/>
<circle cx="471.2" cy="100.8" r="1.6" fill="#0f558c"/>
<circle cx="469.95" cy="113.31" r="1.6" fill="#0f558c"/>
<circle cx="473.4" cy="114.16" r="1.6" fill="#0f558c"/>
<circle cx="468.8" cy="116.19" r="1.6" fill="#0f558c"/>
<circle cx="474.55" cy="117.44" r="1.6" fill="#0f558c"/>
<circle cx="472.25" cy="118.86" r="1.6" fill="#0f558c"/>
<circle cx="467.65" cy="120.14" r="1.6" fill="#0f558c"/>
<circle cx="471.1" cy="121.16" r="1.6" fill="#0f558c"/>
<circle cx="473.4" cy="122.52" r="1.6" fill="#0f558c"/>
<circle cx="467.65" cy="123.63" r="1.6" fill="#0f558c"/>
<circle cx="469.95" cy="125.4" r="1.6" fill="#0f558c"/>
<circle cx="474.55" cy="126.28" r="1.6" fill="#0f558c"/>
<circle cx="468.8" cy="127.63" r="1.6" fill="#0f558c"/>
<circle cx="471.1" cy="129.09" r="1.6" fill="#0f558c"/>
<circle cx="473.4" cy="130.23" r="1.6" fill="#0f558c"/>
<circle cx="468.8" cy="131.37" r="1.6" fill="#0f558c"/>
<circle cx="471.1" cy="132.14" r="1.6" fill="#0f558c"/>
<circle cx="474.55" cy="133.1" r="1.6" fill="#0f558c"/>
<circle cx="467.65" cy="134.22" r="1.6" fill="#0f558c"/>
<circle cx="471.1" cy="135.18" r="1.6" fill="#0f558c"/>
<circle cx="475.7" cy="136.09" r="1.6" fill="#0f558c"/>
<circle cx="466.5" cy="136.22" r="1.6" fill="#0f558c"/>
<circle cx="473.4" cy="137.3" r="1.6" fill="#0f558c"/>
<circle cx="469.95" cy="137.49" r="1.6" fill="#0f558c"/>
<circle cx="467.65" cy="137.52" r="1.6" fill="#0f558c"/>
<circle cx="475.7" cy="138" r="1.6" fill="#0f558c"/>
<circle cx="472.25" cy="138.48" r="1.6" fill="#0f558c"/>
<circle cx="465.35" cy="138.89" r="1.6" fill="#0f558c"/>
<circle cx="468.8" cy="139.1" r="1.6" fill="#0f558c"/>
<circle cx="474.55" cy="140.08" r="1.6" fill="#0f558c"/>
<circle cx="471.1" cy="140.57" r="1.6" fill="#0f558c"/>
<circle cx="476.85" cy="140.59" r="1.6" fill="#0f558c"/>
<circle cx="466.5" cy="140.99" r="1.6" fill="#0f558c"/>
<circle cx="468.8" cy="141.07" r="1.6" fill="#0f558c"/>
<circle cx="473.4" cy="141.48" r="1.6" fill="#0f558c"/>
<circle cx="464.2" cy="142.07" r="1.6" fill="#0f558c"/>
<circle cx="478" cy="142.41" r="1.6" fill="#0f558c"/>
<circle cx="471.1" cy="143.13" r="1.6" fill="#0f558c"/>
<circle cx="467.65" cy="143.26" r="1.6" fill="#0f558c"/>
<circle cx="475.7" cy="143.42" r="1.6" fill="#0f558c"/>
<circle cx="465.35" cy="144.56" r="1.6" fill="#0f558c"/>
<circle cx="473.4" cy="144.62" r="1.6" fill="#0f558c"/>
<circle cx="478" cy="144.72" r="1.6" fill="#0f558c"/>
<circle cx="469.95" cy="145.42" r="1.6" fill="#0f558c"/>
<circle cx="467.65" cy="145.43" r="1.6" fill="#0f558c"/>
<circle cx="475.7" cy="146.22" r="1.6" fill="#0f558c"/>
<circle cx="472.25" cy="146.98" r="1.6" fill="#0f558c"/>
<circle cx="465.35" cy="147.29" r="1.6" fill="#0f558c"/>
<circle cx="468.8" cy="147.56" r="1.6" fill="#0f558c"/>
<circle cx="474.55" cy="147.61" r="1.6" fill="#0f558c"/>
<circle cx="476.85" cy="148.09" r="1.6" fill="#0f558c"/>
<circle cx="471.1" cy="148.33" r="1.6" fill="#0f558c"/>
<circle cx="466.5" cy="149.22" r="1.6" fill="#0f558c"/>
<circle cx="473.4" cy="149.43" r="1.6" fill="#0f558c"/>
<circle cx="468.8" cy="150.02" r="1.6" fill="#0f558c"/>
<circle cx="462.6" cy="152.1" r="1.6" fill="#0f558c"/>
<circle cx="464.86" cy="152.1" r="1.6" fill="#0f558c"/>
<circle cx="467.12" cy="152.1" r="1.6" fill="#0f558c"/>
<circle cx="469.39" cy="152.1" r="1.6" fill="#0f558c"/>
<circle cx="471.65" cy="152.1" r="1.6" fill="#0f558c"/>
<circle cx="473.91" cy="152.1" r="1.6" fill="#0f558c"/>
<circle cx="476.18" cy="152.1" r="1.6" fill="#0f558c"/>
<circle cx="478.44" cy="152.1" r="1.6" fill="#0f558c"/>
<circle cx="480.7" cy="152.1" r="1.6" fill="#0f558c"/>
<line x1="60.45" y1="322.4" x2="81.95" y2="322.4" stroke="#2a2a2a" stroke-width="1.3"/>
<circle cx="71.4" cy="280.5" r="1.6" fill="#c30023"/>
<circle cx="71.4" cy="284.7" r="1.6" fill="#c30023"/>
<circle cx="68.5" cy="292.8" r="1.6" fill="#c30023"/>
<circle cx="71.2" cy="292.4" r="1.6" fill="#c30023"/>
<circle cx="73.8" cy="290.1" r="1.6" fill="#c30023"/>
<circle cx="69.8" cy="300.5" r="1.6" fill="#c30023"/>
<circle cx="72.5" cy="301.5" r="1.6" fill="#c30023"/>
<circle cx="71.4" cy="306.2" r="1.6" fill="#c30023"/>
<circle cx="71.4" cy="312.6" r="1.6" fill="#c30023"/>
<circle cx="66.4" cy="319.4" r="1.6" fill="#c30023"/>
<circle cx="75.9" cy="320.1" r="1.6" fill="#c30023"/>
<circle cx="73.8" cy="321.7" r="1.6" fill="#c30023"/>
<circle cx="71.2" cy="323.1" r="1.6" fill="#c30023"/>
<circle cx="69.8" cy="327.1" r="1.6" fill="#c30023"/>
<circle cx="72.5" cy="328" r="1.6" fill="#c30023"/>
<circle cx="68.5" cy="338.1" r="1.6" fill="#c30023"/>
<circle cx="72.5" cy="339.2" r="1.6" fill="#c30023"/>
<circle cx="78.6" cy="337.2" r="1.6" fill="#c30023"/>
<circle cx="62" cy="340.85" r="1.6" fill="#c30023"/>
<circle cx="66.47" cy="340.85" r="1.6" fill="#c30023"/>
<circle cx="70.95" cy="340.85" r="1.6" fill="#c30023"/>
<circle cx="75.43" cy="340.85" r="1.6" fill="#c30023"/>
<circle cx="79.9" cy="340.85" r="1.6" fill="#c30023"/>
<line x1="93.3" y1="320.4" x2="114.9" y2="320.4" stroke="#2a2a2a" stroke-width="1.3"/>
<circle cx="104.1" cy="244.9" r="1.6" fill="#0f558c"/>
<circle cx="104.1" cy="275.25" r="1.6" fill="#0f558c"/>
<circle cx="101.8" cy="276.94" r="1.6" fill="#0f558c"/>
<circle cx="106.4" cy="279.19" r="1.6" fill="#0f558c"/>
<circle cx="104.1" cy="281.1" r="1.6" fill="#0f558c"/>
<circle cx="106.4" cy="282.77" r="1.6" fill="#0f558c"/>
<circle cx="102.95" cy="284.51" r="1.6" fill="#0f558c"/>
<circle cx="106.4" cy="286.29" r="1.6" fill="#0f558c"/>
<circle cx="101.8" cy="288" r="1.6" fill="#0f558c"/>
<circle cx="106.4" cy="289.37" r="1.6" fill="#0f558c"/>
<circle cx="102.95" cy="291.38" r="1.6" fill="#0f558c"/>
<circle cx="106.4" cy="293.02" r="1.6" fill="#0f558c"/>
<circle cx="101.8" cy="294.54" r="1.6" fill="#0f558c"/>
<circle cx="106.4" cy="296.31" r="1.6" fill="#0f558c"/>
<circle cx="101.8" cy="298.29" r="1.6" fill="#0f558c"/>
<circle cx="106.4" cy="300.04" r="1.6" fill="#0f558c"/>
<circle cx="102.95" cy="302.17" r="1.6" fill="#0f558c"/>
<circle cx="100.65" cy="304.15" r="1.6" fill="#0f558c"/>
<circle cx="106.4" cy="305.52" r="1.6" fill="#0f558c"/>
<circle cx="100.65" cy="307.69" r="1.6" fill="#0f558c"/>
<circle cx="105.25" cy="309.5" r="1.6" fill="#0f558c"/>
<circle cx="99.5" cy="310.75" r="1.6" fill="#0f558c"/>
<circle cx="108.7" cy="311.06" r="1.6" fill="#0f558c"/>
<circle cx="102.95" cy="311.73" r="1.6" fill="#0f558c"/>
<circle cx="106.4" cy="312.52" r="1.6" fill="#0f558c"/>
<circle cx="100.65" cy="313.27" r="1.6" fill="#0f558c"/>
<circle cx="108.7" cy="314.06" r="1.6" fill="#0f558c"/>
<circle cx="104.1" cy="315.18" r="1.6" fill="#0f558c"/>
<circle cx="100.65" cy="316.18" r="1.6" fill="#0f558c"/>
<circle cx="107.55" cy="316.91" r="1.6" fill="#0f558c"/>
<circle cx="102.95" cy="317.41" r="1.6" fill="#0f558c"/>
<circle cx="98.35" cy="318.33" r="1.6" fill="#0f558c"/>
<circle cx="109.85" cy="319.22" r="1.6" fill="#0f558c"/>
<circle cx="106.4" cy="319.43" r="1.6" fill="#0f558c"/>
<circle cx="99.5" cy="320.68" r="1.6" fill="#0f558c"/>
<circle cx="104.1" cy="321.66" r="1.6" fill="#0f558c"/>
<circle cx="109.85" cy="322.34" r="1.6" fill="#0f558c"/>
<circle cx="98.35" cy="323.09" r="1.6" fill="#0f558c"/>
<circle cx="106.4" cy="323.65" r="1.6" fill="#0f558c"/>
<circle cx="101.8" cy="324.2" r="1.6" fill="#0f558c"/>
<circle cx="99.5" cy="325.47" r="1.6" fill="#0f558c"/>
<circle cx="108.7" cy="325.88" r="1.6" fill="#0f558c"/>
<circle cx="104.1" cy="327.04" r="1.6" fill="#0f558c"/>
<circle cx="100.65" cy="327.96" r="1.6" fill="#0f558c"/>
<circle cx="107.55" cy="328.28" r="1.6" fill="#0f558c"/>
<circle cx="105.25" cy="329.06" r="1.6" fill="#0f558c"/>
<circle cx="102.95" cy="330.28" r="1.6" fill="#0f558c"/>
<circle cx="99.5" cy="330.88" r="1.6" fill="#0f558c"/>
<circle cx="107.55" cy="331.22" r="1.6" fill="#0f558c"/>
<circle cx="105.25" cy="331.97" r="1.6" fill="#0f558c"/>
<circle cx="101.8" cy="332.77" r="1.6" fill="#0f558c"/>
<circle cx="104.1" cy="334.15" r="1.6" fill="#0f558c"/>
<circle cx="106.4" cy="334.85" r="1.6" fill="#0f558c"/>
<circle cx="102.95" cy="336.5" r="1.6" fill="#0f558c"/>
<circle cx="105.25" cy="338.5" r="1.6" fill="#0f558c"/>
<circle cx="95.6" cy="340.85" r="1.6" fill="#0f558c"/>
<circle cx="97.21" cy="340.85" r="1.6" fill="#0f558c"/>
<circle cx="98.82" cy="340.85" r="1.6" fill="#0f558c"/>
<circle cx="100.43" cy="340.85" r="1.6" fill="#0f558c"/>
<circle cx="102.04" cy="340.85" r="1.6" fill="#0f558c"/>
<circle cx="103.65" cy="340.85" r="1.6" fill="#0f558c"/>
<circle cx="105.25" cy="340.85" r="1.6" fill="#0f558c"/>
<circle cx="106.86" cy="340.85" r="1.6" fill="#0f558c"/>
<circle cx="108.47" cy="340.85" r="1.6" fill="#0f558c"/>
<circle cx="110.08" cy="340.85" r="1.6" fill="#0f558c"/>
<circle cx="111.69" cy="340.85" r="1.6" fill="#0f558c"/>
<circle cx="113.3" cy="340.85" r="1.6" fill="#0f558c"/>
<line x1="182" y1="330.2" x2="203.6" y2="330.2" stroke="#2a2a2a" stroke-width="1.3"/>
<circle cx="192.7" cy="259.4" r="1.6" fill="#c30023"/>
<circle cx="191.5" cy="286" r="1.6" fill="#c30023"/>
<circle cx="194" cy="289.2" r="1.6" fill="#c30023"/>
<circle cx="190.4" cy="295.5" r="1.6" fill="#c30023"/>
<circle cx="192.7" cy="298.4" r="1.6" fill="#c30023"/>
<circle cx="192.7" cy="302.6" r="1.6" fill="#c30023"/>
<circle cx="190.4" cy="306.2" r="1.6" fill="#c30023"/>
<circle cx="192.7" cy="307.9" r="1.6" fill="#c30023"/>
<circle cx="195.2" cy="309.5" r="1.6" fill="#c30023"/>
<circle cx="195.2" cy="320.2" r="1.6" fill="#c30023"/>
<circle cx="192.7" cy="321.9" r="1.6" fill="#c30023"/>
<circle cx="190.4" cy="329.3" r="1.6" fill="#c30023"/>
<circle cx="195.2" cy="330.5" r="1.6" fill="#c30023"/>
<circle cx="192.7" cy="333.1" r="1.6" fill="#c30023"/>
<circle cx="199.8" cy="336" r="1.6" fill="#c30023"/>
<circle cx="186.6" cy="339.3" r="1.6" fill="#c30023"/>
<circle cx="184" cy="340.85" r="1.6" fill="#c30023"/>
<circle cx="185.56" cy="340.85" r="1.6" fill="#c30023"/>
<circle cx="187.13" cy="340.85" r="1.6" fill="#c30023"/>
<circle cx="188.69" cy="340.85" r="1.6" fill="#c30023"/>
<circle cx="190.25" cy="340.85" r="1.6" fill="#c30023"/>
<circle cx="191.82" cy="340.85" r="1.6" fill="#c30023"/>
<circle cx="193.38" cy="340.85" r="1.6" fill="#c30023"/>
<circle cx="194.95" cy="340.85" r="1.6" fill="#c30023"/>
<circle cx="196.51" cy="340.85" r="1.6" fill="#c30023"/>
<circle cx="198.07" cy="340.85" r="1.6" fill="#c30023"/>
<circle cx="199.64" cy="340.85" r="1.6" fill="#c30023"/>
<circle cx="201.2" cy="340.85" r="1.6" fill="#c30023"/>
<line x1="214.7" y1="321.5" x2="236.7" y2="321.5" stroke="#2a2a2a" stroke-width="1.3"/>
<circle cx="225.7" cy="253.6" r="1.6" fill="#0f558c"/>
<circle cx="225.7" cy="262.1" r="1.6" fill="#0f558c"/>
<circle cx="225.7" cy="267.9" r="1.6" fill="#0f558c"/>
<circle cx="224.12" cy="283.6" r="1.6" fill="#0f558c"/>
<circle cx="227.06" cy="285.8" r="1.6" fill="#0f558c"/>
<circle cx="224.78" cy="291.4" r="1.6" fill="#0f558c"/>
<circle cx="226.93" cy="293" r="1.6" fill="#0f558c"/>
<circle cx="224.28" cy="297.5" r="1.6" fill="#0f558c"/>
<circle cx="226.84" cy="299.2" r="1.6" fill="#0f558c"/>
<circle cx="224.1" cy="301.4" r="1.6" fill="#0f558c"/>
<circle cx="226.41" cy="304.2" r="1.6" fill="#0f558c"/>
<circle cx="224.78" cy="306.4" r="1.6" fill="#0f558c"/>
<circle cx="226.92" cy="307.5" r="1.6" fill="#0f558c"/>
<circle cx="224.42" cy="309.2" r="1.6" fill="#0f558c"/>
<circle cx="227.15" cy="310.9" r="1.6" fill="#0f558c"/>
<circle cx="224.35" cy="312.5" r="1.6" fill="#0f558c"/>
<circle cx="227.1" cy="313.6" r="1.6" fill="#0f558c"/>
<circle cx="224.66" cy="315.3" r="1.6" fill="#0f558c"/>
<circle cx="226.57" cy="317" r="1.6" fill="#0f558c"/>
<circle cx="224.2" cy="318.6" r="1.6" fill="#0f558c"/>
<circle cx="226.63" cy="320.3" r="1.6" fill="#0f558c"/>
<circle cx="224.19" cy="322" r="1.6" fill="#0f558c"/>
<circle cx="226.87" cy="323.7" r="1.6" fill="#0f558c"/>
<circle cx="224.21" cy="325.3" r="1.6" fill="#0f558c"/>
<circle cx="226.74" cy="327" r="1.6" fill="#0f558c"/>
<circle cx="224.1" cy="328.7" r="1.6" fill="#0f558c"/>
<circle cx="227.13" cy="333.7" r="1.6" fill="#0f558c"/>
<circle cx="224.28" cy="335.3" r="1.6" fill="#0f558c"/>
<circle cx="217" cy="340.85" r="1.6" fill="#0f558c"/>
<circle cx="218.58" cy="340.85" r="1.6" fill="#0f558c"/>
<circle cx="220.16" cy="340.85" r="1.6" fill="#0f558c"/>
<circle cx="221.75" cy="340.85" r="1.6" fill="#0f558c"/>
<circle cx="223.33" cy="340.85" r="1.6" fill="#0f558c"/>
<circle cx="224.91" cy="340.85" r="1.6" fill="#0f558c"/>
<circle cx="226.49" cy="340.85" r="1.6" fill="#0f558c"/>
<circle cx="228.07" cy="340.85" r="1.6" fill="#0f558c"/>
<circle cx="229.65" cy="340.85" r="1.6" fill="#0f558c"/>
<circle cx="231.24" cy="340.85" r="1.6" fill="#0f558c"/>
<circle cx="232.82" cy="340.85" r="1.6" fill="#0f558c"/>
<circle cx="234.4" cy="340.85" r="1.6" fill="#0f558c"/>
<line x1="316.4" y1="321.4" x2="338.4" y2="321.4" stroke="#2a2a2a" stroke-width="1.3"/>
<circle cx="327.4" cy="241" r="1.6" fill="#c30023"/>
<circle cx="327.4" cy="262.4" r="1.6" fill="#c30023"/>
<circle cx="327.4" cy="268" r="1.6" fill="#c30023"/>
<circle cx="326.4" cy="275" r="1.6" fill="#c30023"/>
<circle cx="329" cy="274" r="1.6" fill="#c30023"/>
<circle cx="327.4" cy="280" r="1.6" fill="#c30023"/>
<circle cx="326.4" cy="286.4" r="1.6" fill="#c30023"/>
<circle cx="329" cy="287.4" r="1.6" fill="#c30023"/>
<circle cx="329.4" cy="301.4" r="1.6" fill="#c30023"/>
<circle cx="327.4" cy="304" r="1.6" fill="#c30023"/>
<circle cx="327.4" cy="309.4" r="1.6" fill="#c30023"/>
<circle cx="327.4" cy="316" r="1.6" fill="#c30023"/>
<circle cx="327.4" cy="327" r="1.6" fill="#c30023"/>
<circle cx="329.4" cy="333.6" r="1.6" fill="#c30023"/>
<circle cx="327.4" cy="335" r="1.6" fill="#c30023"/>
<circle cx="319" cy="340.85" r="1.6" fill="#c30023"/>
<circle cx="320.55" cy="340.85" r="1.6" fill="#c30023"/>
<circle cx="322.09" cy="340.85" r="1.6" fill="#c30023"/>
<circle cx="323.64" cy="340.85" r="1.6" fill="#c30023"/>
<circle cx="325.18" cy="340.85" r="1.6" fill="#c30023"/>
<circle cx="326.73" cy="340.85" r="1.6" fill="#c30023"/>
<circle cx="328.27" cy="340.85" r="1.6" fill="#c30023"/>
<circle cx="329.82" cy="340.85" r="1.6" fill="#c30023"/>
<circle cx="331.36" cy="340.85" r="1.6" fill="#c30023"/>
<circle cx="332.91" cy="340.85" r="1.6" fill="#c30023"/>
<circle cx="334.45" cy="340.85" r="1.6" fill="#c30023"/>
<circle cx="336" cy="340.85" r="1.6" fill="#c30023"/>
<circle cx="360.4" cy="238" r="1.6" fill="#0f558c"/>
<circle cx="360.4" cy="249" r="1.6" fill="#0f558c"/>
<circle cx="360.4" cy="273.6" r="1.6" fill="#0f558c"/>
<circle cx="360.1" cy="290.2" r="1.6" fill="#0f558c"/>
<circle cx="360.8" cy="292.5" r="1.6" fill="#0f558c"/>
<circle cx="360.1" cy="294.2" r="1.6" fill="#0f558c"/>
<circle cx="360.8" cy="299.1" r="1.6" fill="#0f558c"/>
<circle cx="360.1" cy="300.7" r="1.6" fill="#0f558c"/>
<circle cx="360.8" cy="302.2" r="1.6" fill="#0f558c"/>
<circle cx="360.1" cy="304" r="1.6" fill="#0f558c"/>
<circle cx="360.8" cy="305.6" r="1.6" fill="#0f558c"/>
<circle cx="360.1" cy="311.9" r="1.6" fill="#0f558c"/>
<circle cx="360.8" cy="313.4" r="1.6" fill="#0f558c"/>
<circle cx="360.1" cy="315.1" r="1.6" fill="#0f558c"/>
<circle cx="360.8" cy="319.4" r="1.6" fill="#0f558c"/>
<circle cx="360.1" cy="321" r="1.6" fill="#0f558c"/>
<circle cx="360.8" cy="322.8" r="1.6" fill="#0f558c"/>
<circle cx="360.1" cy="324.7" r="1.6" fill="#0f558c"/>
<circle cx="360.8" cy="326.5" r="1.6" fill="#0f558c"/>
<circle cx="360.1" cy="328" r="1.6" fill="#0f558c"/>
<circle cx="360.8" cy="329.7" r="1.6" fill="#0f558c"/>
<circle cx="360.1" cy="330.9" r="1.6" fill="#0f558c"/>
<circle cx="360.8" cy="334.1" r="1.6" fill="#0f558c"/>
<circle cx="360.1" cy="335.9" r="1.6" fill="#0f558c"/>
<circle cx="360.8" cy="337.2" r="1.6" fill="#0f558c"/>
<circle cx="357.5" cy="338.8" r="1.6" fill="#0f558c"/>
<circle cx="354.5" cy="339.5" r="1.6" fill="#0f558c"/>
<circle cx="351.5" cy="338.8" r="1.6" fill="#0f558c"/>
<circle cx="352" cy="340.85" r="1.6" fill="#0f558c"/>
<circle cx="353.56" cy="340.85" r="1.6" fill="#0f558c"/>
<circle cx="355.13" cy="340.85" r="1.6" fill="#0f558c"/>
<circle cx="356.69" cy="340.85" r="1.6" fill="#0f558c"/>
<circle cx="358.25" cy="340.85" r="1.6" fill="#0f558c"/>
<circle cx="359.82" cy="340.85" r="1.6" fill="#0f558c"/>
<circle cx="361.38" cy="340.85" r="1.6" fill="#0f558c"/>
<circle cx="362.95" cy="340.85" r="1.6" fill="#0f558c"/>
<circle cx="364.51" cy="340.85" r="1.6" fill="#0f558c"/>
<circle cx="366.07" cy="340.85" r="1.6" fill="#0f558c"/>
<circle cx="367.64" cy="340.85" r="1.6" fill="#0f558c"/>
<circle cx="369.2" cy="340.85" r="1.6" fill="#0f558c"/>
<line x1="427.35" y1="305" x2="449.25" y2="305" stroke="#2a2a2a" stroke-width="1.3"/>
<circle cx="438.6" cy="257.7" r="1.6" fill="#c30023"/>
<circle cx="432.5" cy="264.1" r="1.6" fill="#c30023"/>
<circle cx="438.6" cy="262.7" r="1.6" fill="#c30023"/>
<circle cx="444.9" cy="261.9" r="1.6" fill="#c30023"/>
<circle cx="438.6" cy="270.7" r="1.6" fill="#c30023"/>
<circle cx="438.6" cy="278" r="1.6" fill="#c30023"/>
<circle cx="429.6" cy="288.5" r="1.6" fill="#c30023"/>
<circle cx="435.7" cy="289.7" r="1.6" fill="#c30023"/>
<circle cx="447.8" cy="286.2" r="1.6" fill="#c30023"/>
<circle cx="441.7" cy="292" r="1.6" fill="#c30023"/>
<circle cx="435.7" cy="295.1" r="1.6" fill="#c30023"/>
<circle cx="441.7" cy="303.3" r="1.6" fill="#c30023"/>
<circle cx="435.7" cy="306.7" r="1.6" fill="#c30023"/>
<circle cx="441.7" cy="311.4" r="1.6" fill="#c30023"/>
<circle cx="435.7" cy="314.9" r="1.6" fill="#c30023"/>
<circle cx="441.7" cy="318" r="1.6" fill="#c30023"/>
<circle cx="435.7" cy="321.2" r="1.6" fill="#c30023"/>
<circle cx="435.7" cy="325.3" r="1.6" fill="#c30023"/>
<circle cx="441.7" cy="327.6" r="1.6" fill="#c30023"/>
<circle cx="429.6" cy="330.2" r="1.6" fill="#c30023"/>
<circle cx="435.7" cy="331.1" r="1.6" fill="#c30023"/>
<circle cx="441.7" cy="331.4" r="1.6" fill="#c30023"/>
<circle cx="447.8" cy="330.6" r="1.6" fill="#c30023"/>
<circle cx="438.6" cy="340.7" r="1.6" fill="#c30023"/>
<line x1="460.3" y1="324.1" x2="482.1" y2="324.1" stroke="#2a2a2a" stroke-width="1.3"/>
<circle cx="471.7" cy="259.3" r="1.6" fill="#0f558c"/>
<circle cx="471.7" cy="268.1" r="1.6" fill="#0f558c"/>
<circle cx="470.4" cy="275.4" r="1.6" fill="#0f558c"/>
<circle cx="472.5" cy="277.2" r="1.6" fill="#0f558c"/>
<circle cx="470.36" cy="285.38" r="1.6" fill="#0f558c"/>
<circle cx="472.96" cy="287.32" r="1.6" fill="#0f558c"/>
<circle cx="470.71" cy="289.41" r="1.6" fill="#0f558c"/>
<circle cx="472.64" cy="290.85" r="1.6" fill="#0f558c"/>
<circle cx="470.41" cy="293.08" r="1.6" fill="#0f558c"/>
<circle cx="472.71" cy="294.58" r="1.6" fill="#0f558c"/>
<circle cx="470.31" cy="296.44" r="1.6" fill="#0f558c"/>
<circle cx="472.89" cy="298.27" r="1.6" fill="#0f558c"/>
<circle cx="470.25" cy="299.7" r="1.6" fill="#0f558c"/>
<circle cx="472.73" cy="301.87" r="1.6" fill="#0f558c"/>
<circle cx="470.28" cy="303.5" r="1.6" fill="#0f558c"/>
<circle cx="473.14" cy="305.19" r="1.6" fill="#0f558c"/>
<circle cx="470.5" cy="307.66" r="1.6" fill="#0f558c"/>
<circle cx="473.08" cy="308.99" r="1.6" fill="#0f558c"/>
<circle cx="470.74" cy="311.06" r="1.6" fill="#0f558c"/>
<circle cx="472.46" cy="313.1" r="1.6" fill="#0f558c"/>
<circle cx="470.36" cy="314.8" r="1.6" fill="#0f558c"/>
<circle cx="473.14" cy="316.44" r="1.6" fill="#0f558c"/>
<circle cx="470.64" cy="318.43" r="1.6" fill="#0f558c"/>
<circle cx="472.34" cy="320.29" r="1.6" fill="#0f558c"/>
<circle cx="469.92" cy="322.31" r="1.6" fill="#0f558c"/>
<circle cx="472.64" cy="323.6" r="1.6" fill="#0f558c"/>
<circle cx="469.87" cy="325.8" r="1.6" fill="#0f558c"/>
<circle cx="472.44" cy="327.38" r="1.6" fill="#0f558c"/>
<circle cx="469.87" cy="329.24" r="1.6" fill="#0f558c"/>
<circle cx="472.87" cy="331.47" r="1.6" fill="#0f558c"/>
<circle cx="470.58" cy="333.09" r="1.6" fill="#0f558c"/>
<circle cx="463.5" cy="338.2" r="1.6" fill="#0f558c"/>
<circle cx="466.2" cy="337.6" r="1.6" fill="#0f558c"/>
<circle cx="476.2" cy="337.4" r="1.6" fill="#0f558c"/>
<circle cx="479.6" cy="338.4" r="1.6" fill="#0f558c"/>
<circle cx="469.2" cy="336.6" r="1.6" fill="#0f558c"/>
<circle cx="473.8" cy="336.2" r="1.6" fill="#0f558c"/>
<circle cx="471.5" cy="338.5" r="1.6" fill="#0f558c"/>
<circle cx="462.9" cy="340.85" r="1.6" fill="#0f558c"/>
<circle cx="464.45" cy="340.85" r="1.6" fill="#0f558c"/>
<circle cx="466.01" cy="340.85" r="1.6" fill="#0f558c"/>
<circle cx="467.56" cy="340.85" r="1.6" fill="#0f558c"/>
<circle cx="469.12" cy="340.85" r="1.6" fill="#0f558c"/>
<circle cx="470.67" cy="340.85" r="1.6" fill="#0f558c"/>
<circle cx="472.23" cy="340.85" r="1.6" fill="#0f558c"/>
<circle cx="473.78" cy="340.85" r="1.6" fill="#0f558c"/>
<circle cx="475.34" cy="340.85" r="1.6" fill="#0f558c"/>
<circle cx="476.89" cy="340.85" r="1.6" fill="#0f558c"/>
<circle cx="478.45" cy="340.85" r="1.6" fill="#0f558c"/>
<circle cx="480" cy="340.85" r="1.6" fill="#0f558c"/>
<line x1="60.2" y1="476.7" x2="82" y2="476.7" stroke="#4a4a4a" stroke-width="1.7"/>
<circle cx="71.2" cy="441.8" r="1.6" fill="#c30023"/>
<circle cx="71.2" cy="447.4" r="1.6" fill="#c30023"/>
<circle cx="75.9" cy="449.7" r="1.6" fill="#c30023"/>
<circle cx="66.7" cy="453" r="1.6" fill="#c30023"/>
<circle cx="71.2" cy="452.3" r="1.6" fill="#c30023"/>
<circle cx="66.7" cy="462.5" r="1.6" fill="#c30023"/>
<circle cx="71.2" cy="461.8" r="1.6" fill="#c30023"/>
<circle cx="75.9" cy="461.3" r="1.6" fill="#c30023"/>
<circle cx="71.2" cy="467.9" r="1.6" fill="#c30023"/>
<circle cx="66.7" cy="471.2" r="1.6" fill="#c30023"/>
<circle cx="75.9" cy="472.6" r="1.6" fill="#c30023"/>
<circle cx="71.2" cy="474.9" r="1.6" fill="#c30023"/>
<circle cx="62" cy="480.4" r="1.6" fill="#c30023"/>
<circle cx="66.7" cy="481.7" r="1.6" fill="#c30023"/>
<circle cx="71.2" cy="480.1" r="1.6" fill="#c30023"/>
<circle cx="75.9" cy="479.9" r="1.6" fill="#c30023"/>
<circle cx="80.6" cy="479.6" r="1.6" fill="#c30023"/>
<circle cx="71.2" cy="485.3" r="1.6" fill="#c30023"/>
<circle cx="75.9" cy="486.2" r="1.6" fill="#c30023"/>
<circle cx="66.7" cy="489.1" r="1.6" fill="#c30023"/>
<circle cx="71.2" cy="488.6" r="1.6" fill="#c30023"/>
<circle cx="75.9" cy="491.2" r="1.6" fill="#c30023"/>
<circle cx="71.2" cy="510.9" r="1.6" fill="#c30023"/>
<circle cx="71.2" cy="515.2" r="1.6" fill="#c30023"/>
<line x1="92.95" y1="482.4" x2="115.45" y2="482.4" stroke="#4a4a4a" stroke-width="1.7"/>
<circle cx="104.2" cy="450" r="1.6" fill="#0f558c"/>
<circle cx="103" cy="456" r="1.6" fill="#0f558c"/>
<circle cx="105.5" cy="457" r="1.6" fill="#0f558c"/>
<circle cx="101.5" cy="462" r="1.6" fill="#0f558c"/>
<circle cx="105" cy="464" r="1.6" fill="#0f558c"/>
<circle cx="107" cy="467" r="1.6" fill="#0f558c"/>
<circle cx="96.7" cy="506" r="1.6" fill="#0f558c"/>
<circle cx="100.6" cy="503.9" r="1.6" fill="#0f558c"/>
<circle cx="104.2" cy="500.4" r="1.6" fill="#0f558c"/>
<circle cx="108" cy="503.9" r="1.6" fill="#0f558c"/>
<circle cx="110.7" cy="503.6" r="1.6" fill="#0f558c"/>
<circle cx="104.2" cy="506.5" r="1.6" fill="#0f558c"/>
<circle cx="102.8" cy="510.3" r="1.6" fill="#0f558c"/>
<circle cx="104.2" cy="515.2" r="1.6" fill="#0f558c"/>
<circle cx="104.2" cy="520.4" r="1.6" fill="#0f558c"/>
<circle cx="102" cy="521.8" r="1.6" fill="#0f558c"/>
<circle cx="105.4" cy="520.8" r="1.6" fill="#0f558c"/>
<circle cx="104.2" cy="530.5" r="1.6" fill="#0f558c"/>
<circle cx="102.3" cy="468.65" r="1.6" fill="#0f558c"/>
<circle cx="97.7" cy="468.72" r="1.6" fill="#0f558c"/>
<circle cx="109.2" cy="469.84" r="1.6" fill="#0f558c"/>
<circle cx="104.6" cy="470.46" r="1.6" fill="#0f558c"/>
<circle cx="100" cy="470.71" r="1.6" fill="#0f558c"/>
<circle cx="111.5" cy="471.97" r="1.6" fill="#0f558c"/>
<circle cx="106.9" cy="472.71" r="1.6" fill="#0f558c"/>
<circle cx="102.3" cy="472.78" r="1.6" fill="#0f558c"/>
<circle cx="97.7" cy="474.03" r="1.6" fill="#0f558c"/>
<circle cx="109.2" cy="474.25" r="1.6" fill="#0f558c"/>
<circle cx="104.6" cy="474.99" r="1.6" fill="#0f558c"/>
<circle cx="100" cy="476.06" r="1.6" fill="#0f558c"/>
<circle cx="111.5" cy="476.54" r="1.6" fill="#0f558c"/>
<circle cx="95.4" cy="476.54" r="1.6" fill="#0f558c"/>
<circle cx="106.9" cy="477.29" r="1.6" fill="#0f558c"/>
<circle cx="102.3" cy="477.9" r="1.6" fill="#0f558c"/>
<circle cx="113.8" cy="478.29" r="1.6" fill="#0f558c"/>
<circle cx="97.7" cy="478.72" r="1.6" fill="#0f558c"/>
<circle cx="109.2" cy="479.35" r="1.6" fill="#0f558c"/>
<circle cx="104.6" cy="480.19" r="1.6" fill="#0f558c"/>
<circle cx="100" cy="480.22" r="1.6" fill="#0f558c"/>
<circle cx="95.4" cy="481.16" r="1.6" fill="#0f558c"/>
<circle cx="111.5" cy="481.61" r="1.6" fill="#0f558c"/>
<circle cx="106.9" cy="481.81" r="1.6" fill="#0f558c"/>
<circle cx="102.3" cy="482.6" r="1.6" fill="#0f558c"/>
<circle cx="97.7" cy="483.37" r="1.6" fill="#0f558c"/>
<circle cx="109.2" cy="483.82" r="1.6" fill="#0f558c"/>
<circle cx="113.8" cy="484" r="1.6" fill="#0f558c"/>
<circle cx="104.6" cy="485.27" r="1.6" fill="#0f558c"/>
<circle cx="100" cy="485.65" r="1.6" fill="#0f558c"/>
<circle cx="111.5" cy="486.18" r="1.6" fill="#0f558c"/>
<circle cx="106.9" cy="486.34" r="1.6" fill="#0f558c"/>
<circle cx="97.7" cy="486.85" r="1.6" fill="#0f558c"/>
<circle cx="102.3" cy="487.21" r="1.6" fill="#0f558c"/>
<circle cx="109.2" cy="488.34" r="1.6" fill="#0f558c"/>
<circle cx="104.6" cy="488.47" r="1.6" fill="#0f558c"/>
<circle cx="100" cy="488.9" r="1.6" fill="#0f558c"/>
<circle cx="111.5" cy="489.67" r="1.6" fill="#0f558c"/>
<circle cx="106.9" cy="490.68" r="1.6" fill="#0f558c"/>
<circle cx="102.3" cy="491.31" r="1.6" fill="#0f558c"/>
<circle cx="109.2" cy="491.56" r="1.6" fill="#0f558c"/>
<circle cx="104.6" cy="492.17" r="1.6" fill="#0f558c"/>
<circle cx="100" cy="493.49" r="1.6" fill="#0f558c"/>
<circle cx="106.9" cy="493.91" r="1.6" fill="#0f558c"/>
<circle cx="102.3" cy="494.71" r="1.6" fill="#0f558c"/>
<circle cx="109.2" cy="494.92" r="1.6" fill="#0f558c"/>
<circle cx="104.6" cy="495.6" r="1.6" fill="#0f558c"/>
<circle cx="106.9" cy="496.8" r="1.6" fill="#0f558c"/>
<rect x="191" y="433.2" width="3.1" height="15.33" fill="rgb(255,166,166)"/>
<rect x="194.04" y="433.2" width="3.1" height="15.33" fill="rgb(210,210,255)"/>
<rect x="197.09" y="433.2" width="3.1" height="15.33" fill="rgb(255,178,178)"/>
<rect x="200.13" y="433.2" width="3.1" height="15.33" fill="rgb(255,255,255)"/>
<rect x="203.18" y="433.2" width="3.1" height="15.33" fill="rgb(255,38,38)"/>
<rect x="206.22" y="433.2" width="3.1" height="15.33" fill="rgb(255,115,115)"/>
<rect x="209.27" y="433.2" width="3.1" height="15.33" fill="rgb(153,153,255)"/>
<rect x="212.31" y="433.2" width="3.1" height="15.33" fill="rgb(255,166,166)"/>
<rect x="215.36" y="433.2" width="3.1" height="15.33" fill="rgb(255,198,198)"/>
<rect x="218.41" y="433.2" width="3.1" height="15.33" fill="rgb(255,153,153)"/>
<rect x="221.45" y="433.2" width="3.1" height="15.33" fill="rgb(255,0,0)"/>
<rect x="224.5" y="433.2" width="3.1" height="15.33" fill="rgb(191,191,255)"/>
<rect x="227.54" y="433.2" width="3.1" height="15.33" fill="rgb(0,0,255)"/>
<rect x="230.59" y="433.2" width="3.1" height="15.33" fill="rgb(255,217,217)"/>
<rect x="233.63" y="433.2" width="3.1" height="15.33" fill="rgb(64,64,255)"/>
<rect x="236.68" y="433.2" width="3.1" height="15.33" fill="rgb(255,217,217)"/>
<rect x="239.72" y="433.2" width="3.1" height="15.33" fill="rgb(255,64,64)"/>
<rect x="242.76" y="433.2" width="3.1" height="15.33" fill="rgb(255,0,0)"/>
<rect x="245.81" y="433.2" width="3.1" height="15.33" fill="rgb(255,89,89)"/>
<rect x="248.85" y="433.2" width="3.1" height="15.33" fill="rgb(255,115,115)"/>
<rect x="251.9" y="433.2" width="3.1" height="15.33" fill="rgb(255,236,236)"/>
<rect x="254.94" y="433.2" width="3.1" height="15.33" fill="rgb(0,0,255)"/>
<rect x="257.99" y="433.2" width="3.1" height="15.33" fill="rgb(191,191,255)"/>
<rect x="261.03" y="433.2" width="3.1" height="15.33" fill="rgb(217,217,255)"/>
<rect x="191" y="448.47" width="3.1" height="15.33" fill="rgb(255,242,242)"/>
<rect x="194.04" y="448.47" width="3.1" height="15.33" fill="rgb(166,166,255)"/>
<rect x="197.09" y="448.47" width="3.1" height="15.33" fill="rgb(0,0,255)"/>
<rect x="200.13" y="448.47" width="3.1" height="15.33" fill="rgb(255,236,236)"/>
<rect x="203.18" y="448.47" width="3.1" height="15.33" fill="rgb(255,102,102)"/>
<rect x="206.22" y="448.47" width="3.1" height="15.33" fill="rgb(204,204,255)"/>
<rect x="209.27" y="448.47" width="3.1" height="15.33" fill="rgb(191,191,255)"/>
<rect x="212.31" y="448.47" width="3.1" height="15.33" fill="rgb(255,191,191)"/>
<rect x="215.36" y="448.47" width="3.1" height="15.33" fill="rgb(255,191,191)"/>
<rect x="218.41" y="448.47" width="3.1" height="15.33" fill="rgb(255,230,230)"/>
<rect x="221.45" y="448.47" width="3.1" height="15.33" fill="rgb(255,64,64)"/>
<rect x="224.5" y="448.47" width="3.1" height="15.33" fill="rgb(255,255,255)"/>
<rect x="227.54" y="448.47" width="3.1" height="15.33" fill="rgb(0,0,255)"/>
<rect x="230.59" y="448.47" width="3.1" height="15.33" fill="rgb(255,102,102)"/>
<rect x="233.63" y="448.47" width="3.1" height="15.33" fill="rgb(0,0,255)"/>
<rect x="236.68" y="448.47" width="3.1" height="15.33" fill="rgb(255,255,255)"/>
<rect x="239.72" y="448.47" width="3.1" height="15.33" fill="rgb(255,191,191)"/>
<rect x="242.76" y="448.47" width="3.1" height="15.33" fill="rgb(255,25,25)"/>
<rect x="245.81" y="448.47" width="3.1" height="15.33" fill="rgb(255,77,77)"/>
<rect x="248.85" y="448.47" width="3.1" height="15.33" fill="rgb(255,38,38)"/>
<rect x="251.9" y="448.47" width="3.1" height="15.33" fill="rgb(255,236,236)"/>
<rect x="254.94" y="448.47" width="3.1" height="15.33" fill="rgb(0,0,255)"/>
<rect x="257.99" y="448.47" width="3.1" height="15.33" fill="rgb(255,191,191)"/>
<rect x="261.03" y="448.47" width="3.1" height="15.33" fill="rgb(255,236,236)"/>
<rect x="191" y="463.73" width="3.1" height="15.33" fill="rgb(255,242,242)"/>
<rect x="194.04" y="463.73" width="3.1" height="15.33" fill="rgb(255,217,217)"/>
<rect x="197.09" y="463.73" width="3.1" height="15.33" fill="rgb(77,77,255)"/>
<rect x="200.13" y="463.73" width="3.1" height="15.33" fill="rgb(255,128,128)"/>
<rect x="203.18" y="463.73" width="3.1" height="15.33" fill="rgb(255,25,25)"/>
<rect x="206.22" y="463.73" width="3.1" height="15.33" fill="rgb(255,128,128)"/>
<rect x="209.27" y="463.73" width="3.1" height="15.33" fill="rgb(77,77,255)"/>
<rect x="212.31" y="463.73" width="3.1" height="15.33" fill="rgb(255,128,128)"/>
<rect x="215.36" y="463.73" width="3.1" height="15.33" fill="rgb(255,128,128)"/>
<rect x="218.41" y="463.73" width="3.1" height="15.33" fill="rgb(255,128,128)"/>
<rect x="221.45" y="463.73" width="3.1" height="15.33" fill="rgb(255,89,89)"/>
<rect x="224.5" y="463.73" width="3.1" height="15.33" fill="rgb(255,153,153)"/>
<rect x="227.54" y="463.73" width="3.1" height="15.33" fill="rgb(255,230,230)"/>
<rect x="230.59" y="463.73" width="3.1" height="15.33" fill="rgb(255,217,217)"/>
<rect x="233.63" y="463.73" width="3.1" height="15.33" fill="rgb(0,0,255)"/>
<rect x="236.68" y="463.73" width="3.1" height="15.33" fill="rgb(204,204,255)"/>
<rect x="239.72" y="463.73" width="3.1" height="15.33" fill="rgb(255,236,236)"/>
<rect x="242.76" y="463.73" width="3.1" height="15.33" fill="rgb(255,217,217)"/>
<rect x="245.81" y="463.73" width="3.1" height="15.33" fill="rgb(255,178,178)"/>
<rect x="248.85" y="463.73" width="3.1" height="15.33" fill="rgb(255,0,0)"/>
<rect x="251.9" y="463.73" width="3.1" height="15.33" fill="rgb(128,128,255)"/>
<rect x="254.94" y="463.73" width="3.1" height="15.33" fill="rgb(255,236,236)"/>
<rect x="257.99" y="463.73" width="3.1" height="15.33" fill="rgb(255,255,255)"/>
<rect x="261.03" y="463.73" width="3.1" height="15.33" fill="rgb(217,217,255)"/>
<rect x="191" y="479" width="3.1" height="15.33" fill="rgb(210,210,255)"/>
<rect x="194.04" y="479" width="3.1" height="15.33" fill="rgb(210,210,255)"/>
<rect x="197.09" y="479" width="3.1" height="15.33" fill="rgb(255,115,115)"/>
<rect x="200.13" y="479" width="3.1" height="15.33" fill="rgb(255,255,255)"/>
<rect x="203.18" y="479" width="3.1" height="15.33" fill="rgb(255,0,0)"/>
<rect x="206.22" y="479" width="3.1" height="15.33" fill="rgb(255,115,115)"/>
<rect x="209.27" y="479" width="3.1" height="15.33" fill="rgb(255,178,178)"/>
<rect x="212.31" y="479" width="3.1" height="15.33" fill="rgb(166,166,255)"/>
<rect x="215.36" y="479" width="3.1" height="15.33" fill="rgb(255,0,0)"/>
<rect x="218.41" y="479" width="3.1" height="15.33" fill="rgb(255,153,153)"/>
<rect x="221.45" y="479" width="3.1" height="15.33" fill="rgb(255,153,153)"/>
<rect x="224.5" y="479" width="3.1" height="15.33" fill="rgb(255,128,128)"/>
<rect x="227.54" y="479" width="3.1" height="15.33" fill="rgb(255,255,255)"/>
<rect x="230.59" y="479" width="3.1" height="15.33" fill="rgb(255,0,0)"/>
<rect x="233.63" y="479" width="3.1" height="15.33" fill="rgb(217,217,255)"/>
<rect x="236.68" y="479" width="3.1" height="15.33" fill="rgb(255,204,204)"/>
<rect x="239.72" y="479" width="3.1" height="15.33" fill="rgb(255,25,25)"/>
<rect x="242.76" y="479" width="3.1" height="15.33" fill="rgb(255,77,77)"/>
<rect x="245.81" y="479" width="3.1" height="15.33" fill="rgb(255,77,77)"/>
<rect x="248.85" y="479" width="3.1" height="15.33" fill="rgb(255,102,102)"/>
<rect x="251.9" y="479" width="3.1" height="15.33" fill="rgb(255,153,153)"/>
<rect x="254.94" y="479" width="3.1" height="15.33" fill="rgb(0,0,255)"/>
<rect x="257.99" y="479" width="3.1" height="15.33" fill="rgb(178,178,255)"/>
<rect x="261.03" y="479" width="3.1" height="15.33" fill="rgb(236,236,255)"/>
<rect x="191" y="494.27" width="3.1" height="15.33" fill="rgb(115,115,255)"/>
<rect x="194.04" y="494.27" width="3.1" height="15.33" fill="rgb(115,115,255)"/>
<rect x="197.09" y="494.27" width="3.1" height="15.33" fill="rgb(255,115,115)"/>
<rect x="200.13" y="494.27" width="3.1" height="15.33" fill="rgb(255,204,204)"/>
<rect x="203.18" y="494.27" width="3.1" height="15.33" fill="rgb(255,0,0)"/>
<rect x="206.22" y="494.27" width="3.1" height="15.33" fill="rgb(255,217,217)"/>
<rect x="209.27" y="494.27" width="3.1" height="15.33" fill="rgb(140,140,255)"/>
<rect x="212.31" y="494.27" width="3.1" height="15.33" fill="rgb(217,217,255)"/>
<rect x="215.36" y="494.27" width="3.1" height="15.33" fill="rgb(255,0,0)"/>
<rect x="218.41" y="494.27" width="3.1" height="15.33" fill="rgb(255,217,217)"/>
<rect x="221.45" y="494.27" width="3.1" height="15.33" fill="rgb(255,255,255)"/>
<rect x="224.5" y="494.27" width="3.1" height="15.33" fill="rgb(255,249,249)"/>
<rect x="227.54" y="494.27" width="3.1" height="15.33" fill="rgb(255,0,0)"/>
<rect x="230.59" y="494.27" width="3.1" height="15.33" fill="rgb(255,0,0)"/>
<rect x="233.63" y="494.27" width="3.1" height="15.33" fill="rgb(204,204,255)"/>
<rect x="236.68" y="494.27" width="3.1" height="15.33" fill="rgb(255,255,255)"/>
<rect x="239.72" y="494.27" width="3.1" height="15.33" fill="rgb(255,140,140)"/>
<rect x="242.76" y="494.27" width="3.1" height="15.33" fill="rgb(255,140,140)"/>
<rect x="245.81" y="494.27" width="3.1" height="15.33" fill="rgb(255,140,140)"/>
<rect x="248.85" y="494.27" width="3.1" height="15.33" fill="rgb(255,0,0)"/>
<rect x="251.9" y="494.27" width="3.1" height="15.33" fill="rgb(255,0,0)"/>
<rect x="254.94" y="494.27" width="3.1" height="15.33" fill="rgb(140,140,255)"/>
<rect x="257.99" y="494.27" width="3.1" height="15.33" fill="rgb(255,210,210)"/>
<rect x="261.03" y="494.27" width="3.1" height="15.33" fill="rgb(255,191,191)"/>
<rect x="191" y="509.53" width="3.1" height="15.33" fill="rgb(204,204,255)"/>
<rect x="194.04" y="509.53" width="3.1" height="15.33" fill="rgb(255,255,255)"/>
<rect x="197.09" y="509.53" width="3.1" height="15.33" fill="rgb(255,153,153)"/>
<rect x="200.13" y="509.53" width="3.1" height="15.33" fill="rgb(255,191,191)"/>
<rect x="203.18" y="509.53" width="3.1" height="15.33" fill="rgb(255,115,115)"/>
<rect x="206.22" y="509.53" width="3.1" height="15.33" fill="rgb(255,217,217)"/>
<rect x="209.27" y="509.53" width="3.1" height="15.33" fill="rgb(255,223,223)"/>
<rect x="212.31" y="509.53" width="3.1" height="15.33" fill="rgb(217,217,255)"/>
<rect x="215.36" y="509.53" width="3.1" height="15.33" fill="rgb(255,0,0)"/>
<rect x="218.41" y="509.53" width="3.1" height="15.33" fill="rgb(178,178,255)"/>
<rect x="221.45" y="509.53" width="3.1" height="15.33" fill="rgb(255,178,178)"/>
<rect x="224.5" y="509.53" width="3.1" height="15.33" fill="rgb(51,51,255)"/>
<rect x="227.54" y="509.53" width="3.1" height="15.33" fill="rgb(255,255,255)"/>
<rect x="230.59" y="509.53" width="3.1" height="15.33" fill="rgb(255,0,0)"/>
<rect x="233.63" y="509.53" width="3.1" height="15.33" fill="rgb(236,236,255)"/>
<rect x="236.68" y="509.53" width="3.1" height="15.33" fill="rgb(255,236,236)"/>
<rect x="239.72" y="509.53" width="3.1" height="15.33" fill="rgb(255,191,191)"/>
<rect x="242.76" y="509.53" width="3.1" height="15.33" fill="rgb(255,0,0)"/>
<rect x="245.81" y="509.53" width="3.1" height="15.33" fill="rgb(255,249,249)"/>
<rect x="248.85" y="509.53" width="3.1" height="15.33" fill="rgb(255,25,25)"/>
<rect x="251.9" y="509.53" width="3.1" height="15.33" fill="rgb(255,51,51)"/>
<rect x="254.94" y="509.53" width="3.1" height="15.33" fill="rgb(217,217,255)"/>
<rect x="257.99" y="509.53" width="3.1" height="15.33" fill="rgb(51,51,255)"/>
<rect x="261.03" y="509.53" width="3.1" height="15.33" fill="rgb(255,153,153)"/>
<rect x="277.4" y="433.2" width="3.1" height="15.33" fill="rgb(255,242,242)"/>
<rect x="280.44" y="433.2" width="3.1" height="15.33" fill="rgb(236,236,255)"/>
<rect x="283.49" y="433.2" width="3.1" height="15.33" fill="rgb(153,153,255)"/>
<rect x="286.53" y="433.2" width="3.1" height="15.33" fill="rgb(255,242,242)"/>
<rect x="289.58" y="433.2" width="3.1" height="15.33" fill="rgb(210,210,255)"/>
<rect x="292.62" y="433.2" width="3.1" height="15.33" fill="rgb(255,255,255)"/>
<rect x="295.67" y="433.2" width="3.1" height="15.33" fill="rgb(0,0,255)"/>
<rect x="298.71" y="433.2" width="3.1" height="15.33" fill="rgb(230,230,255)"/>
<rect x="301.76" y="433.2" width="3.1" height="15.33" fill="rgb(0,0,255)"/>
<rect x="304.8" y="433.2" width="3.1" height="15.33" fill="rgb(255,204,204)"/>
<rect x="307.85" y="433.2" width="3.1" height="15.33" fill="rgb(230,230,255)"/>
<rect x="310.89" y="433.2" width="3.1" height="15.33" fill="rgb(255,102,102)"/>
<rect x="313.94" y="433.2" width="3.1" height="15.33" fill="rgb(217,217,255)"/>
<rect x="316.98" y="433.2" width="3.1" height="15.33" fill="rgb(255,255,255)"/>
<rect x="320.03" y="433.2" width="3.1" height="15.33" fill="rgb(153,153,255)"/>
<rect x="323.07" y="433.2" width="3.1" height="15.33" fill="rgb(255,191,191)"/>
<rect x="326.12" y="433.2" width="3.1" height="15.33" fill="rgb(38,38,255)"/>
<rect x="329.16" y="433.2" width="3.1" height="15.33" fill="rgb(255,204,204)"/>
<rect x="332.21" y="433.2" width="3.1" height="15.33" fill="rgb(255,153,153)"/>
<rect x="335.25" y="433.2" width="3.1" height="15.33" fill="rgb(255,191,191)"/>
<rect x="338.3" y="433.2" width="3.1" height="15.33" fill="rgb(255,230,230)"/>
<rect x="341.34" y="433.2" width="3.1" height="15.33" fill="rgb(255,204,204)"/>
<rect x="344.39" y="433.2" width="3.1" height="15.33" fill="rgb(255,128,128)"/>
<rect x="347.43" y="433.2" width="3.1" height="15.33" fill="rgb(191,191,255)"/>
<rect x="350.48" y="433.2" width="3.1" height="15.33" fill="rgb(0,0,255)"/>
<rect x="353.52" y="433.2" width="3.1" height="15.33" fill="rgb(178,178,255)"/>
<rect x="356.57" y="433.2" width="3.1" height="15.33" fill="rgb(77,77,255)"/>
<rect x="359.62" y="433.2" width="3.1" height="15.33" fill="rgb(77,77,255)"/>
<rect x="362.66" y="433.2" width="3.1" height="15.33" fill="rgb(191,191,255)"/>
<rect x="365.7" y="433.2" width="3.1" height="15.33" fill="rgb(255,191,191)"/>
<rect x="368.75" y="433.2" width="3.1" height="15.33" fill="rgb(255,153,153)"/>
<rect x="371.79" y="433.2" width="3.1" height="15.33" fill="rgb(0,0,255)"/>
<rect x="374.84" y="433.2" width="3.1" height="15.33" fill="rgb(0,0,255)"/>
<rect x="377.88" y="433.2" width="3.1" height="15.33" fill="rgb(210,210,255)"/>
<rect x="380.93" y="433.2" width="3.1" height="15.33" fill="rgb(255,236,236)"/>
<rect x="383.97" y="433.2" width="3.1" height="15.33" fill="rgb(255,64,64)"/>
<rect x="387.02" y="433.2" width="3.1" height="15.33" fill="rgb(64,64,255)"/>
<rect x="390.06" y="433.2" width="3.1" height="15.33" fill="rgb(242,242,255)"/>
<rect x="393.11" y="433.2" width="3.1" height="15.33" fill="rgb(255,255,255)"/>
<rect x="396.15" y="433.2" width="3.1" height="15.33" fill="rgb(255,191,191)"/>
<rect x="399.2" y="433.2" width="3.1" height="15.33" fill="rgb(255,102,102)"/>
<rect x="402.25" y="433.2" width="3.1" height="15.33" fill="rgb(255,178,178)"/>
<rect x="405.29" y="433.2" width="3.1" height="15.33" fill="rgb(0,0,255)"/>
<rect x="408.33" y="433.2" width="3.1" height="15.33" fill="rgb(255,77,77)"/>
<rect x="411.38" y="433.2" width="3.1" height="15.33" fill="rgb(0,0,255)"/>
<rect x="414.42" y="433.2" width="3.1" height="15.33" fill="rgb(217,217,255)"/>
<rect x="417.47" y="433.2" width="3.1" height="15.33" fill="rgb(255,153,153)"/>
<rect x="420.51" y="433.2" width="3.1" height="15.33" fill="rgb(255,255,255)"/>
<rect x="423.56" y="433.2" width="3.1" height="15.33" fill="rgb(204,204,255)"/>
<rect x="426.6" y="433.2" width="3.1" height="15.33" fill="rgb(255,140,140)"/>
<rect x="429.65" y="433.2" width="3.1" height="15.33" fill="rgb(255,147,147)"/>
<rect x="432.69" y="433.2" width="3.1" height="15.33" fill="rgb(255,191,191)"/>
<rect x="435.74" y="433.2" width="3.1" height="15.33" fill="rgb(255,166,166)"/>
<rect x="438.78" y="433.2" width="3.1" height="15.33" fill="rgb(255,230,230)"/>
<rect x="441.83" y="433.2" width="3.1" height="15.33" fill="rgb(191,191,255)"/>
<rect x="444.88" y="433.2" width="3.1" height="15.33" fill="rgb(140,140,255)"/>
<rect x="447.92" y="433.2" width="3.1" height="15.33" fill="rgb(255,178,178)"/>
<rect x="450.96" y="433.2" width="3.1" height="15.33" fill="rgb(255,191,191)"/>
<rect x="454.01" y="433.2" width="3.1" height="15.33" fill="rgb(25,25,255)"/>
<rect x="457.05" y="433.2" width="3.1" height="15.33" fill="rgb(255,166,166)"/>
<rect x="460.1" y="433.2" width="3.1" height="15.33" fill="rgb(255,191,191)"/>
<rect x="463.14" y="433.2" width="3.1" height="15.33" fill="rgb(255,153,153)"/>
<rect x="466.19" y="433.2" width="3.1" height="15.33" fill="rgb(255,153,153)"/>
<rect x="469.24" y="433.2" width="3.1" height="15.33" fill="rgb(217,217,255)"/>
<rect x="472.28" y="433.2" width="3.1" height="15.33" fill="rgb(255,191,191)"/>
<rect x="475.32" y="433.2" width="3.1" height="15.33" fill="rgb(255,140,140)"/>
<rect x="478.37" y="433.2" width="3.1" height="15.33" fill="rgb(230,230,255)"/>
<rect x="481.41" y="433.2" width="3.1" height="15.33" fill="rgb(223,223,255)"/>
<rect x="484.46" y="433.2" width="3.1" height="15.33" fill="rgb(166,166,255)"/>
<rect x="487.5" y="433.2" width="3.1" height="15.33" fill="rgb(255,255,255)"/>
<rect x="490.55" y="433.2" width="3.1" height="15.33" fill="rgb(255,140,140)"/>
<rect x="493.59" y="433.2" width="3.1" height="15.33" fill="rgb(255,230,230)"/>
<rect x="496.64" y="433.2" width="3.1" height="15.33" fill="rgb(255,204,204)"/>
<rect x="499.68" y="433.2" width="3.1" height="15.33" fill="rgb(255,204,204)"/>
<rect x="502.73" y="433.2" width="3.1" height="15.33" fill="rgb(255,0,0)"/>
<rect x="505.77" y="433.2" width="3.1" height="15.33" fill="rgb(128,128,255)"/>
<rect x="508.82" y="433.2" width="3.1" height="15.33" fill="rgb(255,153,153)"/>
<rect x="277.4" y="448.47" width="3.1" height="15.33" fill="rgb(255,191,191)"/>
<rect x="280.44" y="448.47" width="3.1" height="15.33" fill="rgb(153,153,255)"/>
<rect x="283.49" y="448.47" width="3.1" height="15.33" fill="rgb(115,115,255)"/>
<rect x="286.53" y="448.47" width="3.1" height="15.33" fill="rgb(255,255,255)"/>
<rect x="289.58" y="448.47" width="3.1" height="15.33" fill="rgb(255,255,255)"/>
<rect x="292.62" y="448.47" width="3.1" height="15.33" fill="rgb(255,166,166)"/>
<rect x="295.67" y="448.47" width="3.1" height="15.33" fill="rgb(166,166,255)"/>
<rect x="298.71" y="448.47" width="3.1" height="15.33" fill="rgb(217,217,255)"/>
<rect x="301.76" y="448.47" width="3.1" height="15.33" fill="rgb(153,153,255)"/>
<rect x="304.8" y="448.47" width="3.1" height="15.33" fill="rgb(230,230,255)"/>
<rect x="307.85" y="448.47" width="3.1" height="15.33" fill="rgb(204,204,255)"/>
<rect x="310.89" y="448.47" width="3.1" height="15.33" fill="rgb(255,191,191)"/>
<rect x="313.94" y="448.47" width="3.1" height="15.33" fill="rgb(230,230,255)"/>
<rect x="316.98" y="448.47" width="3.1" height="15.33" fill="rgb(191,191,255)"/>
<rect x="320.03" y="448.47" width="3.1" height="15.33" fill="rgb(102,102,255)"/>
<rect x="323.07" y="448.47" width="3.1" height="15.33" fill="rgb(255,77,77)"/>
<rect x="326.12" y="448.47" width="3.1" height="15.33" fill="rgb(38,38,255)"/>
<rect x="329.16" y="448.47" width="3.1" height="15.33" fill="rgb(255,191,191)"/>
<rect x="332.21" y="448.47" width="3.1" height="15.33" fill="rgb(255,140,140)"/>
<rect x="335.25" y="448.47" width="3.1" height="15.33" fill="rgb(255,255,255)"/>
<rect x="338.3" y="448.47" width="3.1" height="15.33" fill="rgb(255,140,140)"/>
<rect x="341.34" y="448.47" width="3.1" height="15.33" fill="rgb(255,153,153)"/>
<rect x="344.39" y="448.47" width="3.1" height="15.33" fill="rgb(255,191,191)"/>
<rect x="347.43" y="448.47" width="3.1" height="15.33" fill="rgb(255,204,204)"/>
<rect x="350.48" y="448.47" width="3.1" height="15.33" fill="rgb(51,51,255)"/>
<rect x="353.52" y="448.47" width="3.1" height="15.33" fill="rgb(166,166,255)"/>
<rect x="356.57" y="448.47" width="3.1" height="15.33" fill="rgb(255,64,64)"/>
<rect x="359.62" y="448.47" width="3.1" height="15.33" fill="rgb(255,191,191)"/>
<rect x="362.66" y="448.47" width="3.1" height="15.33" fill="rgb(178,178,255)"/>
<rect x="365.7" y="448.47" width="3.1" height="15.33" fill="rgb(255,230,230)"/>
<rect x="368.75" y="448.47" width="3.1" height="15.33" fill="rgb(255,77,77)"/>
<rect x="371.79" y="448.47" width="3.1" height="15.33" fill="rgb(25,25,255)"/>
<rect x="374.84" y="448.47" width="3.1" height="15.33" fill="rgb(102,102,255)"/>
<rect x="377.88" y="448.47" width="3.1" height="15.33" fill="rgb(140,140,255)"/>
<rect x="380.93" y="448.47" width="3.1" height="15.33" fill="rgb(255,236,236)"/>
<rect x="383.97" y="448.47" width="3.1" height="15.33" fill="rgb(255,0,0)"/>
<rect x="387.02" y="448.47" width="3.1" height="15.33" fill="rgb(0,0,255)"/>
<rect x="390.06" y="448.47" width="3.1" height="15.33" fill="rgb(255,255,255)"/>
<rect x="393.11" y="448.47" width="3.1" height="15.33" fill="rgb(255,236,236)"/>
<rect x="396.15" y="448.47" width="3.1" height="15.33" fill="rgb(204,204,255)"/>
<rect x="399.2" y="448.47" width="3.1" height="15.33" fill="rgb(255,64,64)"/>
<rect x="402.25" y="448.47" width="3.1" height="15.33" fill="rgb(255,255,255)"/>
<rect x="405.29" y="448.47" width="3.1" height="15.33" fill="rgb(25,25,255)"/>
<rect x="408.33" y="448.47" width="3.1" height="15.33" fill="rgb(255,140,140)"/>
<rect x="411.38" y="448.47" width="3.1" height="15.33" fill="rgb(64,64,255)"/>
<rect x="414.42" y="448.47" width="3.1" height="15.33" fill="rgb(255,236,236)"/>
<rect x="417.47" y="448.47" width="3.1" height="15.33" fill="rgb(255,0,0)"/>
<rect x="420.51" y="448.47" width="3.1" height="15.33" fill="rgb(255,153,153)"/>
<rect x="423.56" y="448.47" width="3.1" height="15.33" fill="rgb(255,236,236)"/>
<rect x="426.6" y="448.47" width="3.1" height="15.33" fill="rgb(255,140,140)"/>
<rect x="429.65" y="448.47" width="3.1" height="15.33" fill="rgb(255,153,153)"/>
<rect x="432.69" y="448.47" width="3.1" height="15.33" fill="rgb(255,204,204)"/>
<rect x="435.74" y="448.47" width="3.1" height="15.33" fill="rgb(191,191,255)"/>
<rect x="438.78" y="448.47" width="3.1" height="15.33" fill="rgb(255,255,255)"/>
<rect x="441.83" y="448.47" width="3.1" height="15.33" fill="rgb(77,77,255)"/>
<rect x="444.88" y="448.47" width="3.1" height="15.33" fill="rgb(166,166,255)"/>
<rect x="447.92" y="448.47" width="3.1" height="15.33" fill="rgb(255,140,140)"/>
<rect x="450.96" y="448.47" width="3.1" height="15.33" fill="rgb(255,236,236)"/>
<rect x="454.01" y="448.47" width="3.1" height="15.33" fill="rgb(255,255,255)"/>
<rect x="457.05" y="448.47" width="3.1" height="15.33" fill="rgb(255,64,64)"/>
<rect x="460.1" y="448.47" width="3.1" height="15.33" fill="rgb(102,102,255)"/>
<rect x="463.14" y="448.47" width="3.1" height="15.33" fill="rgb(255,140,140)"/>
<rect x="466.19" y="448.47" width="3.1" height="15.33" fill="rgb(255,249,249)"/>
<rect x="469.24" y="448.47" width="3.1" height="15.33" fill="rgb(230,230,255)"/>
<rect x="472.28" y="448.47" width="3.1" height="15.33" fill="rgb(255,140,140)"/>
<rect x="475.32" y="448.47" width="3.1" height="15.33" fill="rgb(255,191,191)"/>
<rect x="478.37" y="448.47" width="3.1" height="15.33" fill="rgb(89,89,255)"/>
<rect x="481.41" y="448.47" width="3.1" height="15.33" fill="rgb(217,217,255)"/>
<rect x="484.46" y="448.47" width="3.1" height="15.33" fill="rgb(89,89,255)"/>
<rect x="487.5" y="448.47" width="3.1" height="15.33" fill="rgb(255,230,230)"/>
<rect x="490.55" y="448.47" width="3.1" height="15.33" fill="rgb(255,191,191)"/>
<rect x="493.59" y="448.47" width="3.1" height="15.33" fill="rgb(236,236,255)"/>
<rect x="496.64" y="448.47" width="3.1" height="15.33" fill="rgb(255,230,230)"/>
<rect x="499.68" y="448.47" width="3.1" height="15.33" fill="rgb(166,166,255)"/>
<rect x="502.73" y="448.47" width="3.1" height="15.33" fill="rgb(255,255,255)"/>
<rect x="505.77" y="448.47" width="3.1" height="15.33" fill="rgb(255,153,153)"/>
<rect x="508.82" y="448.47" width="3.1" height="15.33" fill="rgb(255,64,64)"/>
<rect x="277.4" y="463.73" width="3.1" height="15.33" fill="rgb(255,191,191)"/>
<rect x="280.44" y="463.73" width="3.1" height="15.33" fill="rgb(191,191,255)"/>
<rect x="283.49" y="463.73" width="3.1" height="15.33" fill="rgb(77,77,255)"/>
<rect x="286.53" y="463.73" width="3.1" height="15.33" fill="rgb(255,217,217)"/>
<rect x="289.58" y="463.73" width="3.1" height="15.33" fill="rgb(255,255,255)"/>
<rect x="292.62" y="463.73" width="3.1" height="15.33" fill="rgb(255,25,25)"/>
<rect x="295.67" y="463.73" width="3.1" height="15.33" fill="rgb(0,0,255)"/>
<rect x="298.71" y="463.73" width="3.1" height="15.33" fill="rgb(255,255,255)"/>
<rect x="301.76" y="463.73" width="3.1" height="15.33" fill="rgb(140,140,255)"/>
<rect x="304.8" y="463.73" width="3.1" height="15.33" fill="rgb(242,242,255)"/>
<rect x="307.85" y="463.73" width="3.1" height="15.33" fill="rgb(204,204,255)"/>
<rect x="310.89" y="463.73" width="3.1" height="15.33" fill="rgb(255,204,204)"/>
<rect x="313.94" y="463.73" width="3.1" height="15.33" fill="rgb(217,217,255)"/>
<rect x="316.98" y="463.73" width="3.1" height="15.33" fill="rgb(166,166,255)"/>
<rect x="320.03" y="463.73" width="3.1" height="15.33" fill="rgb(178,178,255)"/>
<rect x="323.07" y="463.73" width="3.1" height="15.33" fill="rgb(255,140,140)"/>
<rect x="326.12" y="463.73" width="3.1" height="15.33" fill="rgb(89,89,255)"/>
<rect x="329.16" y="463.73" width="3.1" height="15.33" fill="rgb(255,191,191)"/>
<rect x="332.21" y="463.73" width="3.1" height="15.33" fill="rgb(255,191,191)"/>
<rect x="335.25" y="463.73" width="3.1" height="15.33" fill="rgb(236,236,255)"/>
<rect x="338.3" y="463.73" width="3.1" height="15.33" fill="rgb(255,140,140)"/>
<rect x="341.34" y="463.73" width="3.1" height="15.33" fill="rgb(255,178,178)"/>
<rect x="344.39" y="463.73" width="3.1" height="15.33" fill="rgb(255,191,191)"/>
<rect x="347.43" y="463.73" width="3.1" height="15.33" fill="rgb(255,255,255)"/>
<rect x="350.48" y="463.73" width="3.1" height="15.33" fill="rgb(0,0,255)"/>
<rect x="353.52" y="463.73" width="3.1" height="15.33" fill="rgb(102,102,255)"/>
<rect x="356.57" y="463.73" width="3.1" height="15.33" fill="rgb(204,204,255)"/>
<rect x="359.62" y="463.73" width="3.1" height="15.33" fill="rgb(255,191,191)"/>
<rect x="362.66" y="463.73" width="3.1" height="15.33" fill="rgb(191,191,255)"/>
<rect x="365.7" y="463.73" width="3.1" height="15.33" fill="rgb(236,236,255)"/>
<rect x="368.75" y="463.73" width="3.1" height="15.33" fill="rgb(255,153,153)"/>
<rect x="371.79" y="463.73" width="3.1" height="15.33" fill="rgb(0,0,255)"/>
<rect x="374.84" y="463.73" width="3.1" height="15.33" fill="rgb(25,25,255)"/>
<rect x="377.88" y="463.73" width="3.1" height="15.33" fill="rgb(230,230,255)"/>
<rect x="380.93" y="463.73" width="3.1" height="15.33" fill="rgb(255,191,191)"/>
<rect x="383.97" y="463.73" width="3.1" height="15.33" fill="rgb(255,0,0)"/>
<rect x="387.02" y="463.73" width="3.1" height="15.33" fill="rgb(255,191,191)"/>
<rect x="390.06" y="463.73" width="3.1" height="15.33" fill="rgb(210,210,255)"/>
<rect x="393.11" y="463.73" width="3.1" height="15.33" fill="rgb(128,128,255)"/>
<rect x="396.15" y="463.73" width="3.1" height="15.33" fill="rgb(217,217,255)"/>
<rect x="399.2" y="463.73" width="3.1" height="15.33" fill="rgb(255,191,191)"/>
<rect x="402.25" y="463.73" width="3.1" height="15.33" fill="rgb(217,217,255)"/>
<rect x="405.29" y="463.73" width="3.1" height="15.33" fill="rgb(255,236,236)"/>
<rect x="408.33" y="463.73" width="3.1" height="15.33" fill="rgb(255,140,140)"/>
<rect x="411.38" y="463.73" width="3.1" height="15.33" fill="rgb(0,0,255)"/>
<rect x="414.42" y="463.73" width="3.1" height="15.33" fill="rgb(140,140,255)"/>
<rect x="417.47" y="463.73" width="3.1" height="15.33" fill="rgb(255,89,89)"/>
<rect x="420.51" y="463.73" width="3.1" height="15.33" fill="rgb(255,255,255)"/>
<rect x="423.56" y="463.73" width="3.1" height="15.33" fill="rgb(230,230,255)"/>
<rect x="426.6" y="463.73" width="3.1" height="15.33" fill="rgb(255,25,25)"/>
<rect x="429.65" y="463.73" width="3.1" height="15.33" fill="rgb(255,191,191)"/>
<rect x="432.69" y="463.73" width="3.1" height="15.33" fill="rgb(217,217,255)"/>
<rect x="435.74" y="463.73" width="3.1" height="15.33" fill="rgb(128,128,255)"/>
<rect x="438.78" y="463.73" width="3.1" height="15.33" fill="rgb(255,255,255)"/>
<rect x="441.83" y="463.73" width="3.1" height="15.33" fill="rgb(25,25,255)"/>
<rect x="444.88" y="463.73" width="3.1" height="15.33" fill="rgb(102,102,255)"/>
<rect x="447.92" y="463.73" width="3.1" height="15.33" fill="rgb(255,236,236)"/>
<rect x="450.96" y="463.73" width="3.1" height="15.33" fill="rgb(217,217,255)"/>
<rect x="454.01" y="463.73" width="3.1" height="15.33" fill="rgb(115,115,255)"/>
<rect x="457.05" y="463.73" width="3.1" height="15.33" fill="rgb(255,25,25)"/>
<rect x="460.1" y="463.73" width="3.1" height="15.33" fill="rgb(153,153,255)"/>
<rect x="463.14" y="463.73" width="3.1" height="15.33" fill="rgb(255,191,191)"/>
<rect x="466.19" y="463.73" width="3.1" height="15.33" fill="rgb(255,255,255)"/>
<rect x="469.24" y="463.73" width="3.1" height="15.33" fill="rgb(191,191,255)"/>
<rect x="472.28" y="463.73" width="3.1" height="15.33" fill="rgb(255,191,191)"/>
<rect x="475.32" y="463.73" width="3.1" height="15.33" fill="rgb(255,140,140)"/>
<rect x="478.37" y="463.73" width="3.1" height="15.33" fill="rgb(255,166,166)"/>
<rect x="481.41" y="463.73" width="3.1" height="15.33" fill="rgb(242,242,255)"/>
<rect x="484.46" y="463.73" width="3.1" height="15.33" fill="rgb(89,89,255)"/>
<rect x="487.5" y="463.73" width="3.1" height="15.33" fill="rgb(255,204,204)"/>
<rect x="490.55" y="463.73" width="3.1" height="15.33" fill="rgb(255,153,153)"/>
<rect x="493.59" y="463.73" width="3.1" height="15.33" fill="rgb(242,242,255)"/>
<rect x="496.64" y="463.73" width="3.1" height="15.33" fill="rgb(255,178,178)"/>
<rect x="499.68" y="463.73" width="3.1" height="15.33" fill="rgb(217,217,255)"/>
<rect x="502.73" y="463.73" width="3.1" height="15.33" fill="rgb(255,51,51)"/>
<rect x="505.77" y="463.73" width="3.1" height="15.33" fill="rgb(128,128,255)"/>
<rect x="508.82" y="463.73" width="3.1" height="15.33" fill="rgb(255,64,64)"/>
<rect x="277.4" y="479" width="3.1" height="15.33" fill="rgb(153,153,255)"/>
<rect x="280.44" y="479" width="3.1" height="15.33" fill="rgb(255,230,230)"/>
<rect x="283.49" y="479" width="3.1" height="15.33" fill="rgb(178,178,255)"/>
<rect x="286.53" y="479" width="3.1" height="15.33" fill="rgb(255,236,236)"/>
<rect x="289.58" y="479" width="3.1" height="15.33" fill="rgb(153,153,255)"/>
<rect x="292.62" y="479" width="3.1" height="15.33" fill="rgb(236,236,255)"/>
<rect x="295.67" y="479" width="3.1" height="15.33" fill="rgb(25,25,255)"/>
<rect x="298.71" y="479" width="3.1" height="15.33" fill="rgb(255,255,255)"/>
<rect x="301.76" y="479" width="3.1" height="15.33" fill="rgb(0,0,255)"/>
<rect x="304.8" y="479" width="3.1" height="15.33" fill="rgb(255,217,217)"/>
<rect x="307.85" y="479" width="3.1" height="15.33" fill="rgb(255,217,217)"/>
<rect x="310.89" y="479" width="3.1" height="15.33" fill="rgb(255,255,255)"/>
<rect x="313.94" y="479" width="3.1" height="15.33" fill="rgb(236,236,255)"/>
<rect x="316.98" y="479" width="3.1" height="15.33" fill="rgb(230,230,255)"/>
<rect x="320.03" y="479" width="3.1" height="15.33" fill="rgb(255,77,77)"/>
<rect x="323.07" y="479" width="3.1" height="15.33" fill="rgb(217,217,255)"/>
<rect x="326.12" y="479" width="3.1" height="15.33" fill="rgb(77,77,255)"/>
<rect x="329.16" y="479" width="3.1" height="15.33" fill="rgb(255,204,204)"/>
<rect x="332.21" y="479" width="3.1" height="15.33" fill="rgb(255,230,230)"/>
<rect x="335.25" y="479" width="3.1" height="15.33" fill="rgb(255,115,115)"/>
<rect x="338.3" y="479" width="3.1" height="15.33" fill="rgb(178,178,255)"/>
<rect x="341.34" y="479" width="3.1" height="15.33" fill="rgb(204,204,255)"/>
<rect x="344.39" y="479" width="3.1" height="15.33" fill="rgb(255,128,128)"/>
<rect x="347.43" y="479" width="3.1" height="15.33" fill="rgb(204,204,255)"/>
<rect x="350.48" y="479" width="3.1" height="15.33" fill="rgb(25,25,255)"/>
<rect x="353.52" y="479" width="3.1" height="15.33" fill="rgb(77,77,255)"/>
<rect x="356.57" y="479" width="3.1" height="15.33" fill="rgb(89,89,255)"/>
<rect x="359.62" y="479" width="3.1" height="15.33" fill="rgb(128,128,255)"/>
<rect x="362.66" y="479" width="3.1" height="15.33" fill="rgb(51,51,255)"/>
<rect x="365.7" y="479" width="3.1" height="15.33" fill="rgb(191,191,255)"/>
<rect x="368.75" y="479" width="3.1" height="15.33" fill="rgb(255,255,255)"/>
<rect x="371.79" y="479" width="3.1" height="15.33" fill="rgb(77,77,255)"/>
<rect x="374.84" y="479" width="3.1" height="15.33" fill="rgb(0,0,255)"/>
<rect x="377.88" y="479" width="3.1" height="15.33" fill="rgb(191,191,255)"/>
<rect x="380.93" y="479" width="3.1" height="15.33" fill="rgb(64,64,255)"/>
<rect x="383.97" y="479" width="3.1" height="15.33" fill="rgb(255,25,25)"/>
<rect x="387.02" y="479" width="3.1" height="15.33" fill="rgb(255,178,178)"/>
<rect x="390.06" y="479" width="3.1" height="15.33" fill="rgb(191,191,255)"/>
<rect x="393.11" y="479" width="3.1" height="15.33" fill="rgb(166,166,255)"/>
<rect x="396.15" y="479" width="3.1" height="15.33" fill="rgb(255,255,255)"/>
<rect x="399.2" y="479" width="3.1" height="15.33" fill="rgb(255,204,204)"/>
<rect x="402.25" y="479" width="3.1" height="15.33" fill="rgb(204,204,255)"/>
<rect x="405.29" y="479" width="3.1" height="15.33" fill="rgb(255,204,204)"/>
<rect x="408.33" y="479" width="3.1" height="15.33" fill="rgb(255,204,204)"/>
<rect x="411.38" y="479" width="3.1" height="15.33" fill="rgb(0,0,255)"/>
<rect x="414.42" y="479" width="3.1" height="15.33" fill="rgb(217,217,255)"/>
<rect x="417.47" y="479" width="3.1" height="15.33" fill="rgb(217,217,255)"/>
<rect x="420.51" y="479" width="3.1" height="15.33" fill="rgb(242,242,255)"/>
<rect x="423.56" y="479" width="3.1" height="15.33" fill="rgb(255,153,153)"/>
<rect x="426.6" y="479" width="3.1" height="15.33" fill="rgb(255,191,191)"/>
<rect x="429.65" y="479" width="3.1" height="15.33" fill="rgb(255,166,166)"/>
<rect x="432.69" y="479" width="3.1" height="15.33" fill="rgb(255,255,255)"/>
<rect x="435.74" y="479" width="3.1" height="15.33" fill="rgb(236,236,255)"/>
<rect x="438.78" y="479" width="3.1" height="15.33" fill="rgb(140,140,255)"/>
<rect x="441.83" y="479" width="3.1" height="15.33" fill="rgb(38,38,255)"/>
<rect x="444.88" y="479" width="3.1" height="15.33" fill="rgb(191,191,255)"/>
<rect x="447.92" y="479" width="3.1" height="15.33" fill="rgb(191,191,255)"/>
<rect x="450.96" y="479" width="3.1" height="15.33" fill="rgb(255,242,242)"/>
<rect x="454.01" y="479" width="3.1" height="15.33" fill="rgb(25,25,255)"/>
<rect x="457.05" y="479" width="3.1" height="15.33" fill="rgb(255,217,217)"/>
<rect x="460.1" y="479" width="3.1" height="15.33" fill="rgb(166,166,255)"/>
<rect x="463.14" y="479" width="3.1" height="15.33" fill="rgb(255,89,89)"/>
<rect x="466.19" y="479" width="3.1" height="15.33" fill="rgb(178,178,255)"/>
<rect x="469.24" y="479" width="3.1" height="15.33" fill="rgb(217,217,255)"/>
<rect x="472.28" y="479" width="3.1" height="15.33" fill="rgb(255,0,0)"/>
<rect x="475.32" y="479" width="3.1" height="15.33" fill="rgb(217,217,255)"/>
<rect x="478.37" y="479" width="3.1" height="15.33" fill="rgb(255,255,255)"/>
<rect x="481.41" y="479" width="3.1" height="15.33" fill="rgb(255,191,191)"/>
<rect x="484.46" y="479" width="3.1" height="15.33" fill="rgb(25,25,255)"/>
<rect x="487.5" y="479" width="3.1" height="15.33" fill="rgb(230,230,255)"/>
<rect x="490.55" y="479" width="3.1" height="15.33" fill="rgb(217,217,255)"/>
<rect x="493.59" y="479" width="3.1" height="15.33" fill="rgb(255,128,128)"/>
<rect x="496.64" y="479" width="3.1" height="15.33" fill="rgb(255,249,249)"/>
<rect x="499.68" y="479" width="3.1" height="15.33" fill="rgb(255,153,153)"/>
<rect x="502.73" y="479" width="3.1" height="15.33" fill="rgb(255,0,0)"/>
<rect x="505.77" y="479" width="3.1" height="15.33" fill="rgb(255,51,51)"/>
<rect x="508.82" y="479" width="3.1" height="15.33" fill="rgb(255,89,89)"/>
<rect x="277.4" y="494.27" width="3.1" height="15.33" fill="rgb(204,204,255)"/>
<rect x="280.44" y="494.27" width="3.1" height="15.33" fill="rgb(178,178,255)"/>
<rect x="283.49" y="494.27" width="3.1" height="15.33" fill="rgb(0,0,255)"/>
<rect x="286.53" y="494.27" width="3.1" height="15.33" fill="rgb(255,178,178)"/>
<rect x="289.58" y="494.27" width="3.1" height="15.33" fill="rgb(255,230,230)"/>
<rect x="292.62" y="494.27" width="3.1" height="15.33" fill="rgb(255,255,255)"/>
<rect x="295.67" y="494.27" width="3.1" height="15.33" fill="rgb(115,115,255)"/>
<rect x="298.71" y="494.27" width="3.1" height="15.33" fill="rgb(255,217,217)"/>
<rect x="301.76" y="494.27" width="3.1" height="15.33" fill="rgb(178,178,255)"/>
<rect x="304.8" y="494.27" width="3.1" height="15.33" fill="rgb(230,230,255)"/>
<rect x="307.85" y="494.27" width="3.1" height="15.33" fill="rgb(230,230,255)"/>
<rect x="310.89" y="494.27" width="3.1" height="15.33" fill="rgb(255,191,191)"/>
<rect x="313.94" y="494.27" width="3.1" height="15.33" fill="rgb(230,230,255)"/>
<rect x="316.98" y="494.27" width="3.1" height="15.33" fill="rgb(153,153,255)"/>
<rect x="320.03" y="494.27" width="3.1" height="15.33" fill="rgb(255,153,153)"/>
<rect x="323.07" y="494.27" width="3.1" height="15.33" fill="rgb(255,255,255)"/>
<rect x="326.12" y="494.27" width="3.1" height="15.33" fill="rgb(77,77,255)"/>
<rect x="329.16" y="494.27" width="3.1" height="15.33" fill="rgb(217,217,255)"/>
<rect x="332.21" y="494.27" width="3.1" height="15.33" fill="rgb(255,204,204)"/>
<rect x="335.25" y="494.27" width="3.1" height="15.33" fill="rgb(255,204,204)"/>
<rect x="338.3" y="494.27" width="3.1" height="15.33" fill="rgb(191,191,255)"/>
<rect x="341.34" y="494.27" width="3.1" height="15.33" fill="rgb(191,191,255)"/>
<rect x="344.39" y="494.27" width="3.1" height="15.33" fill="rgb(255,140,140)"/>
<rect x="347.43" y="494.27" width="3.1" height="15.33" fill="rgb(115,115,255)"/>
<rect x="350.48" y="494.27" width="3.1" height="15.33" fill="rgb(128,128,255)"/>
<rect x="353.52" y="494.27" width="3.1" height="15.33" fill="rgb(89,89,255)"/>
<rect x="356.57" y="494.27" width="3.1" height="15.33" fill="rgb(140,140,255)"/>
<rect x="359.62" y="494.27" width="3.1" height="15.33" fill="rgb(255,255,255)"/>
<rect x="362.66" y="494.27" width="3.1" height="15.33" fill="rgb(25,25,255)"/>
<rect x="365.7" y="494.27" width="3.1" height="15.33" fill="rgb(230,230,255)"/>
<rect x="368.75" y="494.27" width="3.1" height="15.33" fill="rgb(166,166,255)"/>
<rect x="371.79" y="494.27" width="3.1" height="15.33" fill="rgb(153,153,255)"/>
<rect x="374.84" y="494.27" width="3.1" height="15.33" fill="rgb(25,25,255)"/>
<rect x="377.88" y="494.27" width="3.1" height="15.33" fill="rgb(51,51,255)"/>
<rect x="380.93" y="494.27" width="3.1" height="15.33" fill="rgb(153,153,255)"/>
<rect x="383.97" y="494.27" width="3.1" height="15.33" fill="rgb(255,51,51)"/>
<rect x="387.02" y="494.27" width="3.1" height="15.33" fill="rgb(255,191,191)"/>
<rect x="390.06" y="494.27" width="3.1" height="15.33" fill="rgb(191,191,255)"/>
<rect x="393.11" y="494.27" width="3.1" height="15.33" fill="rgb(255,166,166)"/>
<rect x="396.15" y="494.27" width="3.1" height="15.33" fill="rgb(128,128,255)"/>
<rect x="399.2" y="494.27" width="3.1" height="15.33" fill="rgb(217,217,255)"/>
<rect x="402.25" y="494.27" width="3.1" height="15.33" fill="rgb(217,217,255)"/>
<rect x="405.29" y="494.27" width="3.1" height="15.33" fill="rgb(255,25,25)"/>
<rect x="408.33" y="494.27" width="3.1" height="15.33" fill="rgb(255,204,204)"/>
<rect x="411.38" y="494.27" width="3.1" height="15.33" fill="rgb(0,0,255)"/>
<rect x="414.42" y="494.27" width="3.1" height="15.33" fill="rgb(128,128,255)"/>
<rect x="417.47" y="494.27" width="3.1" height="15.33" fill="rgb(217,217,255)"/>
<rect x="420.51" y="494.27" width="3.1" height="15.33" fill="rgb(217,217,255)"/>
<rect x="423.56" y="494.27" width="3.1" height="15.33" fill="rgb(255,153,153)"/>
<rect x="426.6" y="494.27" width="3.1" height="15.33" fill="rgb(255,51,51)"/>
<rect x="429.65" y="494.27" width="3.1" height="15.33" fill="rgb(255,185,185)"/>
<rect x="432.69" y="494.27" width="3.1" height="15.33" fill="rgb(255,191,191)"/>
<rect x="435.74" y="494.27" width="3.1" height="15.33" fill="rgb(255,217,217)"/>
<rect x="438.78" y="494.27" width="3.1" height="15.33" fill="rgb(242,242,255)"/>
<rect x="441.83" y="494.27" width="3.1" height="15.33" fill="rgb(25,25,255)"/>
<rect x="444.88" y="494.27" width="3.1" height="15.33" fill="rgb(255,255,255)"/>
<rect x="447.92" y="494.27" width="3.1" height="15.33" fill="rgb(255,255,255)"/>
<rect x="450.96" y="494.27" width="3.1" height="15.33" fill="rgb(255,230,230)"/>
<rect x="454.01" y="494.27" width="3.1" height="15.33" fill="rgb(153,153,255)"/>
<rect x="457.05" y="494.27" width="3.1" height="15.33" fill="rgb(255,255,255)"/>
<rect x="460.1" y="494.27" width="3.1" height="15.33" fill="rgb(0,0,255)"/>
<rect x="463.14" y="494.27" width="3.1" height="15.33" fill="rgb(255,89,89)"/>
<rect x="466.19" y="494.27" width="3.1" height="15.33" fill="rgb(223,223,255)"/>
<rect x="469.24" y="494.27" width="3.1" height="15.33" fill="rgb(178,178,255)"/>
<rect x="472.28" y="494.27" width="3.1" height="15.33" fill="rgb(255,153,153)"/>
<rect x="475.32" y="494.27" width="3.1" height="15.33" fill="rgb(255,242,242)"/>
<rect x="478.37" y="494.27" width="3.1" height="15.33" fill="rgb(191,191,255)"/>
<rect x="481.41" y="494.27" width="3.1" height="15.33" fill="rgb(255,153,153)"/>
<rect x="484.46" y="494.27" width="3.1" height="15.33" fill="rgb(102,102,255)"/>
<rect x="487.5" y="494.27" width="3.1" height="15.33" fill="rgb(255,255,255)"/>
<rect x="490.55" y="494.27" width="3.1" height="15.33" fill="rgb(230,230,255)"/>
<rect x="493.59" y="494.27" width="3.1" height="15.33" fill="rgb(255,89,89)"/>
<rect x="496.64" y="494.27" width="3.1" height="15.33" fill="rgb(255,204,204)"/>
<rect x="499.68" y="494.27" width="3.1" height="15.33" fill="rgb(255,217,217)"/>
<rect x="502.73" y="494.27" width="3.1" height="15.33" fill="rgb(255,38,38)"/>
<rect x="505.77" y="494.27" width="3.1" height="15.33" fill="rgb(255,191,191)"/>
<rect x="508.82" y="494.27" width="3.1" height="15.33" fill="rgb(255,153,153)"/>
<rect x="277.4" y="509.53" width="3.1" height="15.33" fill="rgb(166,166,255)"/>
<rect x="280.44" y="509.53" width="3.1" height="15.33" fill="rgb(191,191,255)"/>
<rect x="283.49" y="509.53" width="3.1" height="15.33" fill="rgb(128,128,255)"/>
<rect x="286.53" y="509.53" width="3.1" height="15.33" fill="rgb(255,115,115)"/>
<rect x="289.58" y="509.53" width="3.1" height="15.33" fill="rgb(255,255,255)"/>
<rect x="292.62" y="509.53" width="3.1" height="15.33" fill="rgb(255,204,204)"/>
<rect x="295.67" y="509.53" width="3.1" height="15.33" fill="rgb(217,217,255)"/>
<rect x="298.71" y="509.53" width="3.1" height="15.33" fill="rgb(242,242,255)"/>
<rect x="301.76" y="509.53" width="3.1" height="15.33" fill="rgb(217,217,255)"/>
<rect x="304.8" y="509.53" width="3.1" height="15.33" fill="rgb(230,230,255)"/>
<rect x="307.85" y="509.53" width="3.1" height="15.33" fill="rgb(230,230,255)"/>
<rect x="310.89" y="509.53" width="3.1" height="15.33" fill="rgb(230,230,255)"/>
<rect x="313.94" y="509.53" width="3.1" height="15.33" fill="rgb(217,217,255)"/>
<rect x="316.98" y="509.53" width="3.1" height="15.33" fill="rgb(166,166,255)"/>
<rect x="320.03" y="509.53" width="3.1" height="15.33" fill="rgb(255,153,153)"/>
<rect x="323.07" y="509.53" width="3.1" height="15.33" fill="rgb(191,191,255)"/>
<rect x="326.12" y="509.53" width="3.1" height="15.33" fill="rgb(77,77,255)"/>
<rect x="329.16" y="509.53" width="3.1" height="15.33" fill="rgb(191,191,255)"/>
<rect x="332.21" y="509.53" width="3.1" height="15.33" fill="rgb(255,178,178)"/>
<rect x="335.25" y="509.53" width="3.1" height="15.33" fill="rgb(255,38,38)"/>
<rect x="338.3" y="509.53" width="3.1" height="15.33" fill="rgb(204,204,255)"/>
<rect x="341.34" y="509.53" width="3.1" height="15.33" fill="rgb(217,217,255)"/>
<rect x="344.39" y="509.53" width="3.1" height="15.33" fill="rgb(204,204,255)"/>
<rect x="347.43" y="509.53" width="3.1" height="15.33" fill="rgb(255,236,236)"/>
<rect x="350.48" y="509.53" width="3.1" height="15.33" fill="rgb(0,0,255)"/>
<rect x="353.52" y="509.53" width="3.1" height="15.33" fill="rgb(102,102,255)"/>
<rect x="356.57" y="509.53" width="3.1" height="15.33" fill="rgb(255,255,255)"/>
<rect x="359.62" y="509.53" width="3.1" height="15.33" fill="rgb(178,178,255)"/>
<rect x="362.66" y="509.53" width="3.1" height="15.33" fill="rgb(115,115,255)"/>
<rect x="365.7" y="509.53" width="3.1" height="15.33" fill="rgb(255,236,236)"/>
<rect x="368.75" y="509.53" width="3.1" height="15.33" fill="rgb(242,242,255)"/>
<rect x="371.79" y="509.53" width="3.1" height="15.33" fill="rgb(115,115,255)"/>
<rect x="374.84" y="509.53" width="3.1" height="15.33" fill="rgb(0,0,255)"/>
<rect x="377.88" y="509.53" width="3.1" height="15.33" fill="rgb(115,115,255)"/>
<rect x="380.93" y="509.53" width="3.1" height="15.33" fill="rgb(115,115,255)"/>
<rect x="383.97" y="509.53" width="3.1" height="15.33" fill="rgb(255,191,191)"/>
<rect x="387.02" y="509.53" width="3.1" height="15.33" fill="rgb(166,166,255)"/>
<rect x="390.06" y="509.53" width="3.1" height="15.33" fill="rgb(217,217,255)"/>
<rect x="393.11" y="509.53" width="3.1" height="15.33" fill="rgb(255,236,236)"/>
<rect x="396.15" y="509.53" width="3.1" height="15.33" fill="rgb(236,236,255)"/>
<rect x="399.2" y="509.53" width="3.1" height="15.33" fill="rgb(255,230,230)"/>
<rect x="402.25" y="509.53" width="3.1" height="15.33" fill="rgb(153,153,255)"/>
<rect x="405.29" y="509.53" width="3.1" height="15.33" fill="rgb(255,0,0)"/>
<rect x="408.33" y="509.53" width="3.1" height="15.33" fill="rgb(255,204,204)"/>
<rect x="411.38" y="509.53" width="3.1" height="15.33" fill="rgb(0,0,255)"/>
<rect x="414.42" y="509.53" width="3.1" height="15.33" fill="rgb(178,178,255)"/>
<rect x="417.47" y="509.53" width="3.1" height="15.33" fill="rgb(178,178,255)"/>
<rect x="420.51" y="509.53" width="3.1" height="15.33" fill="rgb(236,236,255)"/>
<rect x="423.56" y="509.53" width="3.1" height="15.33" fill="rgb(255,77,77)"/>
<rect x="426.6" y="509.53" width="3.1" height="15.33" fill="rgb(255,77,77)"/>
<rect x="429.65" y="509.53" width="3.1" height="15.33" fill="rgb(217,217,255)"/>
<rect x="432.69" y="509.53" width="3.1" height="15.33" fill="rgb(217,217,255)"/>
<rect x="435.74" y="509.53" width="3.1" height="15.33" fill="rgb(255,191,191)"/>
<rect x="438.78" y="509.53" width="3.1" height="15.33" fill="rgb(255,191,191)"/>
<rect x="441.83" y="509.53" width="3.1" height="15.33" fill="rgb(191,191,255)"/>
<rect x="444.88" y="509.53" width="3.1" height="15.33" fill="rgb(191,191,255)"/>
<rect x="447.92" y="509.53" width="3.1" height="15.33" fill="rgb(255,166,166)"/>
<rect x="450.96" y="509.53" width="3.1" height="15.33" fill="rgb(255,255,255)"/>
<rect x="454.01" y="509.53" width="3.1" height="15.33" fill="rgb(128,128,255)"/>
<rect x="457.05" y="509.53" width="3.1" height="15.33" fill="rgb(51,51,255)"/>
<rect x="460.1" y="509.53" width="3.1" height="15.33" fill="rgb(0,0,255)"/>
<rect x="463.14" y="509.53" width="3.1" height="15.33" fill="rgb(255,89,89)"/>
<rect x="466.19" y="509.53" width="3.1" height="15.33" fill="rgb(217,217,255)"/>
<rect x="469.24" y="509.53" width="3.1" height="15.33" fill="rgb(191,191,255)"/>
<rect x="472.28" y="509.53" width="3.1" height="15.33" fill="rgb(255,102,102)"/>
<rect x="475.32" y="509.53" width="3.1" height="15.33" fill="rgb(255,102,102)"/>
<rect x="478.37" y="509.53" width="3.1" height="15.33" fill="rgb(217,217,255)"/>
<rect x="481.41" y="509.53" width="3.1" height="15.33" fill="rgb(255,204,204)"/>
<rect x="484.46" y="509.53" width="3.1" height="15.33" fill="rgb(217,217,255)"/>
<rect x="487.5" y="509.53" width="3.1" height="15.33" fill="rgb(255,217,217)"/>
<rect x="490.55" y="509.53" width="3.1" height="15.33" fill="rgb(178,178,255)"/>
<rect x="493.59" y="509.53" width="3.1" height="15.33" fill="rgb(255,89,89)"/>
<rect x="496.64" y="509.53" width="3.1" height="15.33" fill="rgb(255,236,236)"/>
<rect x="499.68" y="509.53" width="3.1" height="15.33" fill="rgb(255,217,217)"/>
<rect x="502.73" y="509.53" width="3.1" height="15.33" fill="rgb(255,153,153)"/>
<rect x="505.77" y="509.53" width="3.1" height="15.33" fill="rgb(255,153,153)"/>
<rect x="508.82" y="509.53" width="3.1" height="15.33" fill="rgb(255,140,140)"/>
<line x1="192.4" y1="427" x2="263.6" y2="427" stroke="#be0020" stroke-width="2.4" stroke-linecap="round"/>
<line x1="276.3" y1="427" x2="511.6" y2="427" stroke="#003b73" stroke-width="2.4" stroke-linecap="round"/>
<text transform="translate(228.2,420.8) scale(1.0,1.05)" font-size="9.6" text-anchor="middle" font-weight="normal" font-style="normal" fill="#1a1a1a" stroke="#1a1a1a" stroke-width="0.18" >HB<tspan font-size="8.3">s</tspan>Ag+</text>
<text transform="translate(393.8,420.8) scale(1.0,1.05)" font-size="9.6" text-anchor="middle" font-weight="normal" font-style="normal" fill="#1a1a1a" stroke="#1a1a1a" stroke-width="0.18" >HB<tspan font-size="8.3">s</tspan>Ag-</text>
<text transform="translate(187.4,443.9) scale(1.0,1.1)" font-size="9.2" text-anchor="end" font-weight="normal" font-style="italic" fill="#1a1a1a" stroke="#1a1a1a" stroke-width="0.18" >PDCD1</text>
<text transform="translate(187.4,459.38) scale(1.0,1.1)" font-size="9.2" text-anchor="end" font-weight="normal" font-style="italic" fill="#1a1a1a" stroke="#1a1a1a" stroke-width="0.18" >CTLA4</text>
<text transform="translate(187.4,474.86) scale(1.0,1.1)" font-size="9.2" text-anchor="end" font-weight="normal" font-style="italic" fill="#1a1a1a" stroke="#1a1a1a" stroke-width="0.18" >TIGIT</text>
<text transform="translate(187.4,490.34) scale(1.0,1.1)" font-size="9.2" text-anchor="end" font-weight="normal" font-style="italic" fill="#1a1a1a" stroke="#1a1a1a" stroke-width="0.18" >LAG3</text>
<text transform="translate(187.4,505.82) scale(1.0,1.1)" font-size="9.2" text-anchor="end" font-weight="normal" font-style="italic" fill="#1a1a1a" stroke="#1a1a1a" stroke-width="0.18" >HAVCR2</text>
<text transform="translate(187.4,521.3) scale(1.0,1.1)" font-size="9.2" text-anchor="end" font-weight="normal" font-style="italic" fill="#1a1a1a" stroke="#1a1a1a" stroke-width="0.18" >CD274</text>
<defs><linearGradient id="cb" x1="0" x2="1" y1="0" y2="0"><stop offset="0" stop-color="#ff0000"/><stop offset="0.5" stop-color="#ffffff"/><stop offset="1" stop-color="#0000ff"/></linearGradient></defs>
<rect x="264.8" y="530" width="38.5" height="3" fill="url(#cb)"/>
<text transform="translate(266.3,540.8) scale(1.0,1.0)" font-size="7.2" text-anchor="middle" font-weight="normal" font-style="normal" fill="#222" stroke="#222" stroke-width="0.18" >2</text>
<text transform="translate(284.2,540.8) scale(1.0,1.0)" font-size="7.2" text-anchor="middle" font-weight="normal" font-style="normal" fill="#222" stroke="#222" stroke-width="0.18" >0</text>
<text transform="translate(301.2,540.8) scale(1.0,1.0)" font-size="7.2" text-anchor="middle" font-weight="normal" font-style="normal" fill="#222" stroke="#222" stroke-width="0.18" >&#8722;2</text>
<text transform="translate(314.9,535.8) scale(1.0,1.0)" font-size="7.3" text-anchor="start" font-weight="normal" font-style="normal" fill="#222" stroke="#222" stroke-width="0.18" >Gene expression</text>
<text transform="translate(7.9,14.9) scale(1.0,1.0)" font-size="10.4" text-anchor="start" font-weight="bold" font-style="normal" fill="#000" stroke="#000" stroke-width="0" >A</text>
<text transform="translate(263.6,14.9) scale(1.0,1.0)" font-size="10.4" text-anchor="start" font-weight="bold" font-style="normal" fill="#000" stroke="#000" stroke-width="0" >B</text>
<text transform="translate(8.6,204.1) scale(1.0,1.0)" font-size="10.4" text-anchor="start" font-weight="bold" font-style="normal" fill="#000" stroke="#000" stroke-width="0" >C</text>
<text transform="translate(8.6,402.4) scale(1.0,1.0)" font-size="10.4" text-anchor="start" font-weight="bold" font-style="normal" fill="#000" stroke="#000" stroke-width="0" >D</text>
<text transform="translate(154.2,402.4) scale(1.0,1.0)" font-size="10.4" text-anchor="start" font-weight="bold" font-style="normal" fill="#000" stroke="#000" stroke-width="0" >E</text>
<rect x="0" y="0" width="1.05" height="575" fill="#000"/>
<rect x="0" y="0" width="520" height="1.0" fill="#000"/>
<rect x="518.7" y="0" width="1.3" height="575" fill="#000"/>
<rect x="0" y="573.7" width="520" height="1.3" fill="#000"/>
</svg>
</body></html>
